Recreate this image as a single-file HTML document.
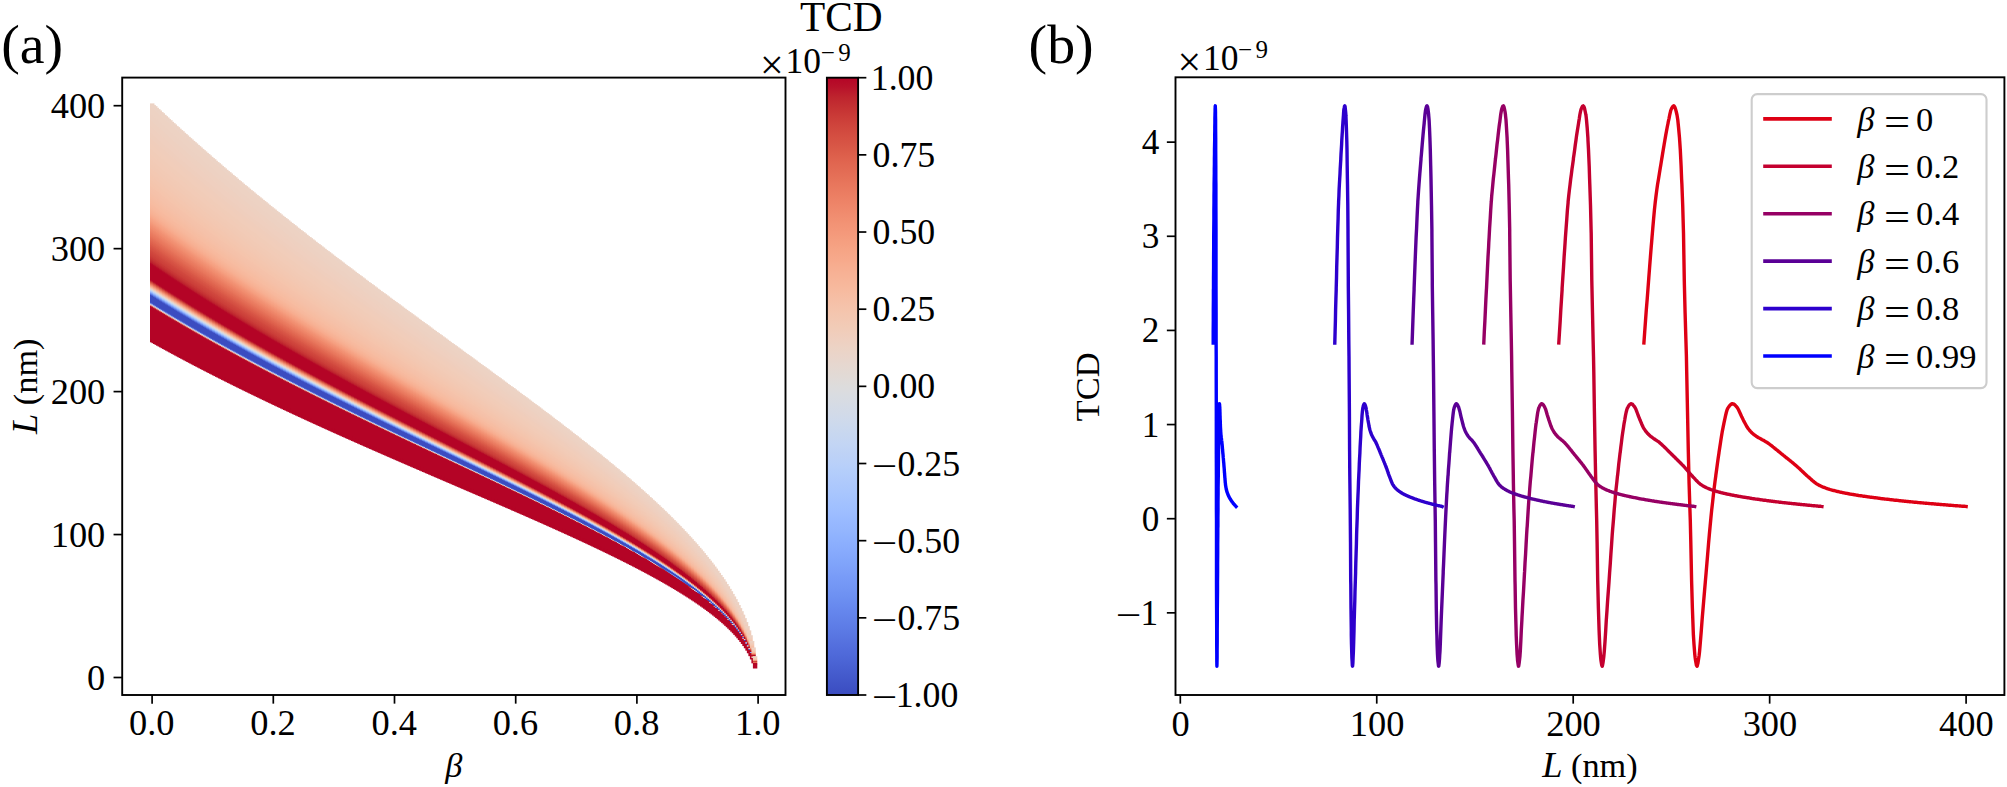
<!DOCTYPE html>
<html lang="en"><head><meta charset="utf-8"><title>TCD figure</title>
<style>html,body{margin:0;padding:0;background:#fff}body{width:2007px;height:787px;overflow:hidden}svg{display:block}text{font-family:'Liberation Serif','Times New Roman',Times,serif;fill:#000}.i{font-style:italic}</style></head><body>
<svg width="2007" height="787" viewBox="0 0 2007 787">
<rect width="2007" height="787" fill="#fff"/>
<defs>
<linearGradient id="hg" x1="0" y1="0" x2="0" y2="1"><stop offset="0.0000" stop-color="#ecd3c5"/><stop offset="0.0045" stop-color="#ecd3c5"/><stop offset="0.0091" stop-color="#ecd3c5"/><stop offset="0.0136" stop-color="#edd2c3"/><stop offset="0.0182" stop-color="#edd2c3"/><stop offset="0.0227" stop-color="#edd2c3"/><stop offset="0.0273" stop-color="#edd2c3"/><stop offset="0.0318" stop-color="#edd2c3"/><stop offset="0.0364" stop-color="#edd2c3"/><stop offset="0.0409" stop-color="#edd2c3"/><stop offset="0.0455" stop-color="#edd1c2"/><stop offset="0.0500" stop-color="#edd1c2"/><stop offset="0.0545" stop-color="#edd1c2"/><stop offset="0.0591" stop-color="#edd1c2"/><stop offset="0.0636" stop-color="#edd1c2"/><stop offset="0.0682" stop-color="#edd1c2"/><stop offset="0.0727" stop-color="#eed0c0"/><stop offset="0.0773" stop-color="#eed0c0"/><stop offset="0.0818" stop-color="#eed0c0"/><stop offset="0.0864" stop-color="#eed0c0"/><stop offset="0.0909" stop-color="#eed0c0"/><stop offset="0.0955" stop-color="#eed0c0"/><stop offset="0.1000" stop-color="#efcfbf"/><stop offset="0.1045" stop-color="#efcfbf"/><stop offset="0.1091" stop-color="#efcfbf"/><stop offset="0.1136" stop-color="#efcfbf"/><stop offset="0.1182" stop-color="#efcfbf"/><stop offset="0.1227" stop-color="#efcfbf"/><stop offset="0.1273" stop-color="#efcebd"/><stop offset="0.1318" stop-color="#efcebd"/><stop offset="0.1364" stop-color="#efcebd"/><stop offset="0.1409" stop-color="#efcebd"/><stop offset="0.1455" stop-color="#efcebd"/><stop offset="0.1500" stop-color="#f0cdbb"/><stop offset="0.1545" stop-color="#f0cdbb"/><stop offset="0.1591" stop-color="#f0cdbb"/><stop offset="0.1636" stop-color="#f0cdbb"/><stop offset="0.1682" stop-color="#f0cdbb"/><stop offset="0.1727" stop-color="#f1cdba"/><stop offset="0.1773" stop-color="#f1cdba"/><stop offset="0.1818" stop-color="#f1cdba"/><stop offset="0.1864" stop-color="#f1cdba"/><stop offset="0.1909" stop-color="#f1cdba"/><stop offset="0.1955" stop-color="#f1ccb8"/><stop offset="0.2000" stop-color="#f1ccb8"/><stop offset="0.2045" stop-color="#f1ccb8"/><stop offset="0.2091" stop-color="#f1ccb8"/><stop offset="0.2136" stop-color="#f1ccb8"/><stop offset="0.2182" stop-color="#f2cbb7"/><stop offset="0.2227" stop-color="#f2cbb7"/><stop offset="0.2273" stop-color="#f2cbb7"/><stop offset="0.2318" stop-color="#f2cbb7"/><stop offset="0.2364" stop-color="#f2cbb7"/><stop offset="0.2409" stop-color="#f2cab5"/><stop offset="0.2455" stop-color="#f2cab5"/><stop offset="0.2500" stop-color="#f2cab5"/><stop offset="0.2545" stop-color="#f2cab5"/><stop offset="0.2591" stop-color="#f2c9b4"/><stop offset="0.2636" stop-color="#f2c9b4"/><stop offset="0.2682" stop-color="#f2c9b4"/><stop offset="0.2727" stop-color="#f2c9b4"/><stop offset="0.2773" stop-color="#f3c8b2"/><stop offset="0.2818" stop-color="#f3c8b2"/><stop offset="0.2864" stop-color="#f3c8b2"/><stop offset="0.2909" stop-color="#f3c8b2"/><stop offset="0.2955" stop-color="#f3c7b1"/><stop offset="0.3000" stop-color="#f3c7b1"/><stop offset="0.3045" stop-color="#f3c7b1"/><stop offset="0.3091" stop-color="#f4c6af"/><stop offset="0.3136" stop-color="#f4c6af"/><stop offset="0.3182" stop-color="#f4c6af"/><stop offset="0.3227" stop-color="#f4c6af"/><stop offset="0.3273" stop-color="#f4c5ad"/><stop offset="0.3318" stop-color="#f4c5ad"/><stop offset="0.3364" stop-color="#f4c5ad"/><stop offset="0.3409" stop-color="#f5c4ac"/><stop offset="0.3455" stop-color="#f5c4ac"/><stop offset="0.3500" stop-color="#f5c4ac"/><stop offset="0.3545" stop-color="#f5c2aa"/><stop offset="0.3591" stop-color="#f5c2aa"/><stop offset="0.3636" stop-color="#f5c2aa"/><stop offset="0.3682" stop-color="#f5c1a9"/><stop offset="0.3727" stop-color="#f5c1a9"/><stop offset="0.3773" stop-color="#f5c1a9"/><stop offset="0.3818" stop-color="#f5c0a7"/><stop offset="0.3864" stop-color="#f5c0a7"/><stop offset="0.3909" stop-color="#f6bfa6"/><stop offset="0.3955" stop-color="#f6bfa6"/><stop offset="0.4000" stop-color="#f6bea4"/><stop offset="0.4045" stop-color="#f6bea4"/><stop offset="0.4091" stop-color="#f6bda2"/><stop offset="0.4136" stop-color="#f6bda2"/><stop offset="0.4182" stop-color="#f7bca1"/><stop offset="0.4227" stop-color="#f7bca1"/><stop offset="0.4273" stop-color="#f7ba9f"/><stop offset="0.4318" stop-color="#f7b99e"/><stop offset="0.4364" stop-color="#f7b99e"/><stop offset="0.4409" stop-color="#f7b89c"/><stop offset="0.4455" stop-color="#f7b79b"/><stop offset="0.4500" stop-color="#f7b599"/><stop offset="0.4545" stop-color="#f7b497"/><stop offset="0.4591" stop-color="#f7b396"/><stop offset="0.4636" stop-color="#f7b194"/><stop offset="0.4682" stop-color="#f7b093"/><stop offset="0.4727" stop-color="#f7ad90"/><stop offset="0.4773" stop-color="#f7ac8e"/><stop offset="0.4818" stop-color="#f7a98b"/><stop offset="0.4864" stop-color="#f7a688"/><stop offset="0.4909" stop-color="#f6a385"/><stop offset="0.4955" stop-color="#f6a283"/><stop offset="0.5000" stop-color="#f59f80"/><stop offset="0.5045" stop-color="#f59c7d"/><stop offset="0.5091" stop-color="#f4987a"/><stop offset="0.5136" stop-color="#f39577"/><stop offset="0.5182" stop-color="#f29274"/><stop offset="0.5227" stop-color="#f18f71"/><stop offset="0.5273" stop-color="#f18d6f"/><stop offset="0.5318" stop-color="#f08a6c"/><stop offset="0.5364" stop-color="#ee8669"/><stop offset="0.5409" stop-color="#ee8468"/><stop offset="0.5455" stop-color="#ec8165"/><stop offset="0.5500" stop-color="#eb7d62"/><stop offset="0.5545" stop-color="#ea7b60"/><stop offset="0.5591" stop-color="#e9785d"/><stop offset="0.5636" stop-color="#e8765c"/><stop offset="0.5682" stop-color="#e67259"/><stop offset="0.5727" stop-color="#e46e56"/><stop offset="0.5773" stop-color="#e36c55"/><stop offset="0.5818" stop-color="#e26952"/><stop offset="0.5864" stop-color="#e0654f"/><stop offset="0.5909" stop-color="#df634e"/><stop offset="0.5955" stop-color="#dd5f4b"/><stop offset="0.6000" stop-color="#dc5d4a"/><stop offset="0.6045" stop-color="#d95847"/><stop offset="0.6091" stop-color="#d85646"/><stop offset="0.6136" stop-color="#d65244"/><stop offset="0.6182" stop-color="#d55042"/><stop offset="0.6227" stop-color="#d44e41"/><stop offset="0.6273" stop-color="#d1493f"/><stop offset="0.6318" stop-color="#d0473d"/><stop offset="0.6364" stop-color="#cf453c"/><stop offset="0.6409" stop-color="#cd423b"/><stop offset="0.6455" stop-color="#cc403a"/><stop offset="0.6500" stop-color="#cb3e38"/><stop offset="0.6545" stop-color="#c83836"/><stop offset="0.6591" stop-color="#c73635"/><stop offset="0.6636" stop-color="#c43032"/><stop offset="0.6682" stop-color="#c12b30"/><stop offset="0.6727" stop-color="#be242e"/><stop offset="0.6773" stop-color="#bb1b2c"/><stop offset="0.6818" stop-color="#b50927"/><stop offset="0.6864" stop-color="#b40426"/><stop offset="0.6909" stop-color="#b40426"/><stop offset="0.6955" stop-color="#b40426"/><stop offset="0.7000" stop-color="#b40426"/><stop offset="0.7045" stop-color="#b40426"/><stop offset="0.7091" stop-color="#b40426"/><stop offset="0.7136" stop-color="#b40426"/><stop offset="0.7182" stop-color="#b40426"/><stop offset="0.7227" stop-color="#b40426"/><stop offset="0.7273" stop-color="#b40426"/><stop offset="0.7318" stop-color="#b40426"/><stop offset="0.7364" stop-color="#b40426"/><stop offset="0.7409" stop-color="#b40426"/><stop offset="0.7455" stop-color="#b40426"/><stop offset="0.7500" stop-color="#b40426"/><stop offset="0.7545" stop-color="#ba162b"/><stop offset="0.7591" stop-color="#ca3b37"/><stop offset="0.7636" stop-color="#d95847"/><stop offset="0.7682" stop-color="#e67259"/><stop offset="0.7727" stop-color="#f08b6e"/><stop offset="0.7773" stop-color="#f6a385"/><stop offset="0.7818" stop-color="#f7b89c"/><stop offset="0.7864" stop-color="#f2cbb7"/><stop offset="0.7909" stop-color="#e2dad5"/><stop offset="0.7955" stop-color="#cdd9ec"/><stop offset="0.8000" stop-color="#b1cbfc"/><stop offset="0.8045" stop-color="#92b4fe"/><stop offset="0.8091" stop-color="#7093f3"/><stop offset="0.8136" stop-color="#536edd"/><stop offset="0.8182" stop-color="#3b4cc0"/><stop offset="0.8227" stop-color="#3b4cc0"/><stop offset="0.8273" stop-color="#3b4cc0"/><stop offset="0.8318" stop-color="#3b4cc0"/><stop offset="0.8364" stop-color="#3b4cc0"/><stop offset="0.8409" stop-color="#3b4cc0"/><stop offset="0.8455" stop-color="#3b4cc0"/><stop offset="0.8500" stop-color="#485fd1"/><stop offset="0.8545" stop-color="#b6cefa"/><stop offset="0.8591" stop-color="#f7bca1"/><stop offset="0.8636" stop-color="#ba162b"/><stop offset="0.8682" stop-color="#b40426"/><stop offset="0.8727" stop-color="#b40426"/><stop offset="0.8773" stop-color="#b40426"/><stop offset="0.8818" stop-color="#b40426"/><stop offset="0.8864" stop-color="#b40426"/><stop offset="0.8909" stop-color="#b40426"/><stop offset="0.8955" stop-color="#b40426"/><stop offset="0.9000" stop-color="#b40426"/><stop offset="0.9045" stop-color="#b40426"/><stop offset="0.9091" stop-color="#b40426"/><stop offset="0.9136" stop-color="#b40426"/><stop offset="0.9182" stop-color="#b40426"/><stop offset="0.9227" stop-color="#b40426"/><stop offset="0.9273" stop-color="#b40426"/><stop offset="0.9318" stop-color="#b40426"/><stop offset="0.9364" stop-color="#b40426"/><stop offset="0.9409" stop-color="#b40426"/><stop offset="0.9455" stop-color="#b40426"/><stop offset="0.9500" stop-color="#b40426"/><stop offset="0.9545" stop-color="#b40426"/><stop offset="0.9591" stop-color="#b40426"/><stop offset="0.9636" stop-color="#b40426"/><stop offset="0.9682" stop-color="#b40426"/><stop offset="0.9727" stop-color="#b40426"/><stop offset="0.9773" stop-color="#b40426"/><stop offset="0.9818" stop-color="#b40426"/><stop offset="0.9864" stop-color="#b40426"/><stop offset="0.9909" stop-color="#b40426"/><stop offset="0.9955" stop-color="#b40426"/><stop offset="1.0000" stop-color="#b40426"/></linearGradient>
<linearGradient id="cb" x1="0" y1="0" x2="0" y2="1"><stop offset="0.0000" stop-color="#b40426"/><stop offset="0.0156" stop-color="#b8122a"/><stop offset="0.0312" stop-color="#be242e"/><stop offset="0.0469" stop-color="#c43032"/><stop offset="0.0625" stop-color="#ca3b37"/><stop offset="0.0781" stop-color="#cf453c"/><stop offset="0.0938" stop-color="#d44e41"/><stop offset="0.1094" stop-color="#d85646"/><stop offset="0.1250" stop-color="#dd5f4b"/><stop offset="0.1406" stop-color="#e16751"/><stop offset="0.1562" stop-color="#e46e56"/><stop offset="0.1719" stop-color="#e8765c"/><stop offset="0.1875" stop-color="#eb7d62"/><stop offset="0.2031" stop-color="#ee8468"/><stop offset="0.2188" stop-color="#f08b6e"/><stop offset="0.2344" stop-color="#f29274"/><stop offset="0.2500" stop-color="#f4987a"/><stop offset="0.2656" stop-color="#f59f80"/><stop offset="0.2812" stop-color="#f6a586"/><stop offset="0.2969" stop-color="#f7aa8c"/><stop offset="0.3125" stop-color="#f7b093"/><stop offset="0.3281" stop-color="#f7b599"/><stop offset="0.3438" stop-color="#f7ba9f"/><stop offset="0.3594" stop-color="#f6bfa6"/><stop offset="0.3750" stop-color="#f5c4ac"/><stop offset="0.3906" stop-color="#f3c8b2"/><stop offset="0.4062" stop-color="#f1ccb8"/><stop offset="0.4219" stop-color="#efcfbf"/><stop offset="0.4375" stop-color="#ecd3c5"/><stop offset="0.4531" stop-color="#e9d5cb"/><stop offset="0.4688" stop-color="#e5d8d1"/><stop offset="0.4844" stop-color="#e1dad6"/><stop offset="0.5000" stop-color="#dddcdc"/><stop offset="0.5156" stop-color="#d9dce1"/><stop offset="0.5312" stop-color="#d5dbe5"/><stop offset="0.5469" stop-color="#d1dae9"/><stop offset="0.5625" stop-color="#ccd9ed"/><stop offset="0.5781" stop-color="#c7d7f0"/><stop offset="0.5938" stop-color="#c3d5f4"/><stop offset="0.6094" stop-color="#bed2f6"/><stop offset="0.6250" stop-color="#b9d0f9"/><stop offset="0.6406" stop-color="#b3cdfb"/><stop offset="0.6562" stop-color="#aec9fc"/><stop offset="0.6719" stop-color="#a9c6fd"/><stop offset="0.6875" stop-color="#a3c2fe"/><stop offset="0.7031" stop-color="#9ebeff"/><stop offset="0.7188" stop-color="#98b9ff"/><stop offset="0.7344" stop-color="#93b5fe"/><stop offset="0.7500" stop-color="#8db0fe"/><stop offset="0.7656" stop-color="#88abfd"/><stop offset="0.7812" stop-color="#82a6fb"/><stop offset="0.7969" stop-color="#7da0f9"/><stop offset="0.8125" stop-color="#779af7"/><stop offset="0.8281" stop-color="#7295f4"/><stop offset="0.8438" stop-color="#6c8ff1"/><stop offset="0.8594" stop-color="#6788ee"/><stop offset="0.8750" stop-color="#6282ea"/><stop offset="0.8906" stop-color="#5d7ce6"/><stop offset="0.9062" stop-color="#5875e1"/><stop offset="0.9219" stop-color="#536edd"/><stop offset="0.9375" stop-color="#4e68d8"/><stop offset="0.9531" stop-color="#4961d2"/><stop offset="0.9688" stop-color="#445acc"/><stop offset="0.9844" stop-color="#3f53c6"/><stop offset="1.0000" stop-color="#3b4cc0"/></linearGradient>
</defs>
<g fill="url(#hg)"><path fill="#b40426" d="M150.00 337.64h4.4v4.70h-4.4z"/><path fill="#ecd3c5" d="M150.00 103.50h4.4v0.70h-4.4z"/><path d="M150.00 103.70h4.4v234.44h-4.4z"/><path fill="#b40426" d="M151.51 338.48h4.4v4.70h-4.4z"/><path fill="#ecd3c5" d="M151.51 104.93h4.4v0.70h-4.4z"/><path d="M151.51 105.13h4.4v233.85h-4.4z"/><path fill="#b40426" d="M153.02 339.32h4.4v4.70h-4.4z"/><path fill="#ecd3c5" d="M153.02 106.35h4.4v0.70h-4.4z"/><path d="M153.02 106.55h4.4v233.27h-4.4z"/><path fill="#b40426" d="M154.53 340.16h4.4v4.70h-4.4z"/><path fill="#ecd3c5" d="M154.53 107.77h4.4v0.70h-4.4z"/><path d="M154.53 107.97h4.4v232.69h-4.4z"/><path fill="#b40426" d="M156.04 341.00h4.4v4.70h-4.4z"/><path fill="#ecd3c5" d="M156.04 109.19h4.4v0.70h-4.4z"/><path d="M156.04 109.39h4.4v232.10h-4.4z"/><path fill="#b40426" d="M157.56 341.83h4.4v4.70h-4.4z"/><path fill="#ecd3c5" d="M157.56 110.61h4.4v0.70h-4.4z"/><path d="M157.56 110.81h4.4v231.52h-4.4z"/><path fill="#b40426" d="M159.07 342.66h4.4v4.70h-4.4z"/><path fill="#ecd3c5" d="M159.07 112.02h4.4v0.70h-4.4z"/><path d="M159.07 112.22h4.4v230.95h-4.4z"/><path fill="#b40426" d="M160.58 343.49h4.4v4.70h-4.4z"/><path fill="#ecd3c5" d="M160.58 113.42h4.4v0.70h-4.4z"/><path d="M160.58 113.62h4.4v230.37h-4.4z"/><path fill="#b40426" d="M162.09 344.32h4.4v4.70h-4.4z"/><path fill="#ecd3c5" d="M162.09 114.83h4.4v0.70h-4.4z"/><path d="M162.09 115.03h4.4v229.79h-4.4z"/><path fill="#b40426" d="M163.60 345.15h4.4v4.70h-4.4z"/><path fill="#ecd3c5" d="M163.60 116.23h4.4v0.70h-4.4z"/><path d="M163.60 116.43h4.4v229.22h-4.4z"/><path fill="#b40426" d="M165.11 345.97h4.4v4.70h-4.4z"/><path fill="#ecd3c5" d="M165.11 117.62h4.4v0.70h-4.4z"/><path d="M165.11 117.82h4.4v228.65h-4.4z"/><path fill="#b40426" d="M166.62 346.79h4.4v4.70h-4.4z"/><path fill="#ecd3c5" d="M166.62 119.02h4.4v0.70h-4.4z"/><path d="M166.62 119.22h4.4v228.08h-4.4z"/><path fill="#b40426" d="M168.13 347.61h4.4v4.70h-4.4z"/><path fill="#ecd3c5" d="M168.13 120.41h4.4v0.70h-4.4z"/><path d="M168.13 120.61h4.4v227.51h-4.4z"/><path fill="#b40426" d="M169.64 348.43h4.4v4.70h-4.4z"/><path fill="#ecd3c5" d="M169.64 121.80h4.4v0.70h-4.4z"/><path d="M169.64 122.00h4.4v226.94h-4.4z"/><path fill="#b40426" d="M171.15 349.25h4.4v4.70h-4.4z"/><path fill="#ecd3c5" d="M171.15 123.18h4.4v0.70h-4.4z"/><path d="M171.15 123.38h4.4v226.37h-4.4z"/><path fill="#b40426" d="M172.67 350.06h4.4v4.70h-4.4z"/><path fill="#ecd3c5" d="M172.67 124.56h4.4v0.70h-4.4z"/><path d="M172.67 124.76h4.4v225.80h-4.4z"/><path fill="#b40426" d="M174.18 350.88h4.4v4.70h-4.4z"/><path fill="#ecd3c5" d="M174.18 125.94h4.4v0.70h-4.4z"/><path d="M174.18 126.14h4.4v225.24h-4.4z"/><path fill="#b40426" d="M175.69 351.69h4.4v4.70h-4.4z"/><path fill="#ecd3c5" d="M175.69 127.31h4.4v0.70h-4.4z"/><path d="M175.69 127.51h4.4v224.67h-4.4z"/><path fill="#b40426" d="M177.20 352.50h4.4v4.70h-4.4z"/><path fill="#ecd3c5" d="M177.20 128.68h4.4v0.70h-4.4z"/><path d="M177.20 128.88h4.4v224.11h-4.4z"/><path fill="#b40426" d="M178.71 353.30h4.4v4.70h-4.4z"/><path fill="#ecd3c5" d="M178.71 130.05h4.4v0.70h-4.4z"/><path d="M178.71 130.25h4.4v223.55h-4.4z"/><path fill="#b40426" d="M180.22 354.11h4.4v4.70h-4.4z"/><path fill="#ecd3c5" d="M180.22 131.42h4.4v0.70h-4.4z"/><path d="M180.22 131.62h4.4v222.99h-4.4z"/><path fill="#b40426" d="M181.73 354.91h4.4v4.70h-4.4z"/><path fill="#ecd3c5" d="M181.73 132.78h4.4v0.70h-4.4z"/><path d="M181.73 132.98h4.4v222.43h-4.4z"/><path fill="#b40426" d="M183.24 355.71h4.4v4.70h-4.4z"/><path fill="#ecd3c5" d="M183.24 134.14h4.4v0.70h-4.4z"/><path d="M183.24 134.34h4.4v221.88h-4.4z"/><path fill="#b40426" d="M184.75 356.51h4.4v4.70h-4.4z"/><path fill="#ecd3c5" d="M184.75 135.49h4.4v0.70h-4.4z"/><path d="M184.75 135.69h4.4v221.32h-4.4z"/><path fill="#b40426" d="M186.26 357.31h4.4v4.70h-4.4z"/><path fill="#ecd3c5" d="M186.26 136.85h4.4v0.70h-4.4z"/><path d="M186.26 137.05h4.4v220.77h-4.4z"/><path fill="#b40426" d="M187.78 358.11h4.4v4.70h-4.4z"/><path fill="#ecd3c5" d="M187.78 138.20h4.4v0.70h-4.4z"/><path d="M187.78 138.40h4.4v220.21h-4.4z"/><path fill="#b40426" d="M189.29 358.90h4.4v4.70h-4.4z"/><path fill="#ecd3c5" d="M189.29 139.54h4.4v0.70h-4.4z"/><path d="M189.29 139.74h4.4v219.66h-4.4z"/><path fill="#b40426" d="M190.80 359.70h4.4v4.70h-4.4z"/><path fill="#ecd3c5" d="M190.80 140.89h4.4v0.70h-4.4z"/><path d="M190.80 141.09h4.4v219.11h-4.4z"/><path fill="#b40426" d="M192.31 360.49h4.4v4.70h-4.4z"/><path fill="#ecd3c5" d="M192.31 142.23h4.4v0.70h-4.4z"/><path d="M192.31 142.43h4.4v218.56h-4.4z"/><path fill="#b40426" d="M193.82 361.28h4.4v4.70h-4.4z"/><path fill="#ecd3c5" d="M193.82 143.57h4.4v0.70h-4.4z"/><path d="M193.82 143.77h4.4v218.01h-4.4z"/><path fill="#b40426" d="M195.33 362.07h4.4v4.70h-4.4z"/><path fill="#ecd3c5" d="M195.33 144.90h4.4v0.70h-4.4z"/><path d="M195.33 145.10h4.4v217.46h-4.4z"/><path fill="#b40426" d="M196.84 362.85h4.4v4.70h-4.4z"/><path fill="#ecd3c5" d="M196.84 146.24h4.4v0.70h-4.4z"/><path d="M196.84 146.44h4.4v216.92h-4.4z"/><path fill="#b40426" d="M198.35 363.64h4.4v4.70h-4.4z"/><path fill="#ecd3c5" d="M198.35 147.57h4.4v0.70h-4.4z"/><path d="M198.35 147.77h4.4v216.37h-4.4z"/><path fill="#b40426" d="M199.86 364.42h4.4v4.70h-4.4z"/><path fill="#ecd3c5" d="M199.86 148.89h4.4v0.70h-4.4z"/><path d="M199.86 149.09h4.4v215.83h-4.4z"/><path fill="#b40426" d="M201.37 365.20h4.4v4.70h-4.4z"/><path fill="#ecd3c5" d="M201.37 150.22h4.4v0.70h-4.4z"/><path d="M201.37 150.42h4.4v215.28h-4.4z"/><path fill="#b40426" d="M202.89 365.98h4.4v4.70h-4.4z"/><path fill="#ecd3c5" d="M202.89 151.54h4.4v0.70h-4.4z"/><path d="M202.89 151.74h4.4v214.74h-4.4z"/><path fill="#b40426" d="M204.40 366.76h4.4v4.70h-4.4z"/><path fill="#ecd3c5" d="M204.40 152.86h4.4v0.70h-4.4z"/><path d="M204.40 153.06h4.4v214.20h-4.4z"/><path fill="#b40426" d="M205.91 367.53h4.4v4.70h-4.4z"/><path fill="#ecd3c5" d="M205.91 154.17h4.4v0.70h-4.4z"/><path d="M205.91 154.37h4.4v213.66h-4.4z"/><path fill="#b40426" d="M207.42 368.31h4.4v4.70h-4.4z"/><path fill="#ecd3c5" d="M207.42 155.48h4.4v0.70h-4.4z"/><path d="M207.42 155.68h4.4v213.12h-4.4z"/><path fill="#b40426" d="M208.93 369.08h4.4v4.70h-4.4z"/><path fill="#ecd3c5" d="M208.93 156.80h4.4v0.70h-4.4z"/><path d="M208.93 157.00h4.4v212.59h-4.4z"/><path fill="#b40426" d="M210.44 369.85h4.4v4.70h-4.4z"/><path fill="#ecd3c5" d="M210.44 158.10h4.4v0.70h-4.4z"/><path d="M210.44 158.30h4.4v212.05h-4.4z"/><path fill="#b40426" d="M211.95 370.62h4.4v4.70h-4.4z"/><path fill="#ecd3c5" d="M211.95 159.41h4.4v0.70h-4.4z"/><path d="M211.95 159.61h4.4v211.52h-4.4z"/><path fill="#b40426" d="M213.46 371.39h4.4v4.70h-4.4z"/><path fill="#ecd3c5" d="M213.46 160.71h4.4v0.70h-4.4z"/><path d="M213.46 160.91h4.4v210.98h-4.4z"/><path fill="#b40426" d="M214.97 372.16h4.4v4.70h-4.4z"/><path fill="#ecd3c5" d="M214.97 162.01h4.4v0.70h-4.4z"/><path d="M214.97 162.21h4.4v210.45h-4.4z"/><path fill="#b40426" d="M216.49 372.92h4.4v4.70h-4.4z"/><path fill="#ecd3c5" d="M216.49 163.31h4.4v0.70h-4.4z"/><path d="M216.49 163.51h4.4v209.92h-4.4z"/><path fill="#b40426" d="M218.00 373.69h4.4v4.70h-4.4z"/><path fill="#ecd3c5" d="M218.00 164.60h4.4v0.70h-4.4z"/><path d="M218.00 164.80h4.4v209.39h-4.4z"/><path fill="#b40426" d="M219.51 374.45h4.4v4.70h-4.4z"/><path fill="#ecd3c5" d="M219.51 165.90h4.4v0.70h-4.4z"/><path d="M219.51 166.10h4.4v208.86h-4.4z"/><path fill="#b40426" d="M221.02 375.21h4.4v4.70h-4.4z"/><path fill="#ecd3c5" d="M221.02 167.18h4.4v0.70h-4.4z"/><path d="M221.02 167.38h4.4v208.33h-4.4z"/><path fill="#b40426" d="M222.53 375.97h4.4v4.70h-4.4z"/><path fill="#ecd3c5" d="M222.53 168.47h4.4v0.70h-4.4z"/><path d="M222.53 168.67h4.4v207.80h-4.4z"/><path fill="#b40426" d="M224.04 376.73h4.4v4.70h-4.4z"/><path fill="#ecd3c5" d="M224.04 169.76h4.4v0.70h-4.4z"/><path d="M224.04 169.96h4.4v207.27h-4.4z"/><path fill="#b40426" d="M225.55 377.49h4.4v4.70h-4.4z"/><path fill="#ecd3c5" d="M225.55 171.04h4.4v0.70h-4.4z"/><path d="M225.55 171.24h4.4v206.75h-4.4z"/><path fill="#b40426" d="M227.06 378.24h4.4v4.70h-4.4z"/><path fill="#ecd3c5" d="M227.06 172.32h4.4v0.70h-4.4z"/><path d="M227.06 172.52h4.4v206.22h-4.4z"/><path fill="#b40426" d="M228.57 378.99h4.4v4.70h-4.4z"/><path fill="#ecd3c5" d="M228.57 173.60h4.4v0.70h-4.4z"/><path d="M228.57 173.80h4.4v205.70h-4.4z"/><path fill="#b40426" d="M230.08 379.75h4.4v4.70h-4.4z"/><path fill="#ecd3c5" d="M230.08 174.87h4.4v0.70h-4.4z"/><path d="M230.08 175.07h4.4v205.18h-4.4z"/><path fill="#b40426" d="M231.60 380.50h4.4v4.70h-4.4z"/><path fill="#ecd3c5" d="M231.60 176.14h4.4v0.70h-4.4z"/><path d="M231.60 176.34h4.4v204.65h-4.4z"/><path fill="#b40426" d="M233.11 381.25h4.4v4.70h-4.4z"/><path fill="#ecd3c5" d="M233.11 177.41h4.4v0.70h-4.4z"/><path d="M233.11 177.61h4.4v204.13h-4.4z"/><path fill="#b40426" d="M234.62 382.00h4.4v4.70h-4.4z"/><path fill="#ecd3c5" d="M234.62 178.68h4.4v0.70h-4.4z"/><path d="M234.62 178.88h4.4v203.61h-4.4z"/><path fill="#b40426" d="M236.13 382.74h4.4v4.70h-4.4z"/><path fill="#ecd3c5" d="M236.13 179.95h4.4v0.70h-4.4z"/><path d="M236.13 180.15h4.4v203.09h-4.4z"/><path fill="#b40426" d="M237.64 383.49h4.4v4.70h-4.4z"/><path fill="#ecd3c5" d="M237.64 181.21h4.4v0.70h-4.4z"/><path d="M237.64 181.41h4.4v202.58h-4.4z"/><path fill="#b40426" d="M239.15 384.23h4.4v4.70h-4.4z"/><path fill="#ecd3c5" d="M239.15 182.47h4.4v0.70h-4.4z"/><path d="M239.15 182.67h4.4v202.06h-4.4z"/><path fill="#b40426" d="M240.66 384.97h4.4v4.70h-4.4z"/><path fill="#ecd3c5" d="M240.66 183.73h4.4v0.70h-4.4z"/><path d="M240.66 183.93h4.4v201.54h-4.4z"/><path fill="#b40426" d="M242.17 385.72h4.4v4.70h-4.4z"/><path fill="#ecd3c5" d="M242.17 184.99h4.4v0.70h-4.4z"/><path d="M242.17 185.19h4.4v201.03h-4.4z"/><path fill="#b40426" d="M243.68 386.46h4.4v4.70h-4.4z"/><path fill="#ecd3c5" d="M243.68 186.24h4.4v0.70h-4.4z"/><path d="M243.68 186.44h4.4v200.51h-4.4z"/><path fill="#b40426" d="M245.19 387.19h4.4v4.70h-4.4z"/><path fill="#ecd3c5" d="M245.19 187.49h4.4v0.70h-4.4z"/><path d="M245.19 187.69h4.4v200.00h-4.4z"/><path fill="#b40426" d="M246.71 387.93h4.4v4.70h-4.4z"/><path fill="#ecd3c5" d="M246.71 188.74h4.4v0.70h-4.4z"/><path d="M246.71 188.94h4.4v199.49h-4.4z"/><path fill="#b40426" d="M248.22 388.67h4.4v4.70h-4.4z"/><path fill="#ecd3c5" d="M248.22 189.99h4.4v0.70h-4.4z"/><path d="M248.22 190.19h4.4v198.98h-4.4z"/><path fill="#b40426" d="M249.73 389.40h4.4v4.70h-4.4z"/><path fill="#ecd3c5" d="M249.73 191.24h4.4v0.70h-4.4z"/><path d="M249.73 191.44h4.4v198.47h-4.4z"/><path fill="#b40426" d="M251.24 390.14h4.4v4.70h-4.4z"/><path fill="#ecd3c5" d="M251.24 192.48h4.4v0.70h-4.4z"/><path d="M251.24 192.68h4.4v197.96h-4.4z"/><path fill="#b40426" d="M252.75 390.87h4.4v4.70h-4.4z"/><path fill="#ecd3c5" d="M252.75 193.72h4.4v0.70h-4.4z"/><path d="M252.75 193.92h4.4v197.45h-4.4z"/><path fill="#b40426" d="M254.26 391.60h4.4v4.70h-4.4z"/><path fill="#ecd3c5" d="M254.26 194.96h4.4v0.70h-4.4z"/><path d="M254.26 195.16h4.4v196.94h-4.4z"/><path fill="#b40426" d="M255.77 392.33h4.4v4.70h-4.4z"/><path fill="#ecd3c5" d="M255.77 196.20h4.4v0.70h-4.4z"/><path d="M255.77 196.40h4.4v196.43h-4.4z"/><path fill="#b40426" d="M257.28 393.06h4.4v4.70h-4.4z"/><path fill="#ecd3c5" d="M257.28 197.43h4.4v0.70h-4.4z"/><path d="M257.28 197.63h4.4v195.93h-4.4z"/><path fill="#b40426" d="M258.79 393.79h4.4v4.70h-4.4z"/><path fill="#ecd3c5" d="M258.79 198.67h4.4v0.70h-4.4z"/><path d="M258.79 198.87h4.4v195.42h-4.4z"/><path fill="#b40426" d="M260.31 394.51h4.4v4.70h-4.4z"/><path fill="#ecd3c5" d="M260.31 199.90h4.4v0.70h-4.4z"/><path d="M260.31 200.10h4.4v194.92h-4.4z"/><path fill="#b40426" d="M261.82 395.24h4.4v4.70h-4.4z"/><path fill="#ecd3c5" d="M261.82 201.12h4.4v0.70h-4.4z"/><path d="M261.82 201.32h4.4v194.41h-4.4z"/><path fill="#b40426" d="M263.33 395.96h4.4v4.70h-4.4z"/><path fill="#ecd3c5" d="M263.33 202.35h4.4v0.70h-4.4z"/><path d="M263.33 202.55h4.4v193.91h-4.4z"/><path fill="#b40426" d="M264.84 396.68h4.4v4.70h-4.4z"/><path fill="#ecd3c5" d="M264.84 203.58h4.4v0.70h-4.4z"/><path d="M264.84 203.78h4.4v193.41h-4.4z"/><path fill="#b40426" d="M266.35 397.40h4.4v4.70h-4.4z"/><path fill="#ecd3c5" d="M266.35 204.80h4.4v0.70h-4.4z"/><path d="M266.35 205.00h4.4v192.91h-4.4z"/><path fill="#b40426" d="M267.86 398.13h4.4v4.70h-4.4z"/><path fill="#ecd3c5" d="M267.86 206.02h4.4v0.70h-4.4z"/><path d="M267.86 206.22h4.4v192.40h-4.4z"/><path fill="#b40426" d="M269.37 398.84h4.4v4.70h-4.4z"/><path fill="#ecd3c5" d="M269.37 207.24h4.4v0.70h-4.4z"/><path d="M269.37 207.44h4.4v191.90h-4.4z"/><path fill="#b40426" d="M270.88 399.56h4.4v4.70h-4.4z"/><path fill="#ecd3c5" d="M270.88 208.46h4.4v0.70h-4.4z"/><path d="M270.88 208.66h4.4v191.41h-4.4z"/><path fill="#b40426" d="M272.39 400.28h4.4v4.70h-4.4z"/><path fill="#ecd3c5" d="M272.39 209.67h4.4v0.70h-4.4z"/><path d="M272.39 209.87h4.4v190.91h-4.4z"/><path fill="#b40426" d="M273.90 401.00h4.4v4.70h-4.4z"/><path fill="#ecd3c5" d="M273.90 210.88h4.4v0.70h-4.4z"/><path d="M273.90 211.08h4.4v190.41h-4.4z"/><path fill="#b40426" d="M275.42 401.71h4.4v4.70h-4.4z"/><path fill="#ecd3c5" d="M275.42 212.10h4.4v0.70h-4.4z"/><path d="M275.42 212.30h4.4v189.91h-4.4z"/><path fill="#b40426" d="M276.93 402.42h4.4v4.70h-4.4z"/><path fill="#ecd3c5" d="M276.93 213.31h4.4v0.70h-4.4z"/><path d="M276.93 213.51h4.4v189.42h-4.4z"/><path fill="#b40426" d="M278.44 403.14h4.4v4.70h-4.4z"/><path fill="#ecd3c5" d="M278.44 214.51h4.4v0.70h-4.4z"/><path d="M278.44 214.71h4.4v188.92h-4.4z"/><path fill="#b40426" d="M279.95 403.85h4.4v4.70h-4.4z"/><path fill="#ecd3c5" d="M279.95 215.72h4.4v0.70h-4.4z"/><path d="M279.95 215.92h4.4v188.43h-4.4z"/><path fill="#b40426" d="M281.46 404.56h4.4v4.70h-4.4z"/><path fill="#ecd3c5" d="M281.46 216.92h4.4v0.70h-4.4z"/><path d="M281.46 217.12h4.4v187.93h-4.4z"/><path fill="#b40426" d="M282.97 405.27h4.4v4.70h-4.4z"/><path fill="#ecd3c5" d="M282.97 218.13h4.4v0.70h-4.4z"/><path d="M282.97 218.33h4.4v187.44h-4.4z"/><path fill="#b40426" d="M284.48 405.98h4.4v4.70h-4.4z"/><path fill="#ecd3c5" d="M284.48 219.33h4.4v0.70h-4.4z"/><path d="M284.48 219.53h4.4v186.95h-4.4z"/><path fill="#b40426" d="M285.99 406.68h4.4v4.70h-4.4z"/><path fill="#ecd3c5" d="M285.99 220.53h4.4v0.70h-4.4z"/><path d="M285.99 220.73h4.4v186.46h-4.4z"/><path fill="#b40426" d="M287.50 407.39h4.4v4.70h-4.4z"/><path fill="#ecd3c5" d="M287.50 221.72h4.4v0.70h-4.4z"/><path d="M287.50 221.92h4.4v185.97h-4.4z"/><path fill="#b40426" d="M289.01 408.09h4.4v4.70h-4.4z"/><path fill="#ecd3c5" d="M289.01 222.92h4.4v0.70h-4.4z"/><path d="M289.01 223.12h4.4v185.48h-4.4z"/><path fill="#b40426" d="M290.53 408.80h4.4v4.70h-4.4z"/><path fill="#ecd3c5" d="M290.53 224.11h4.4v0.70h-4.4z"/><path d="M290.53 224.31h4.4v184.99h-4.4z"/><path fill="#b40426" d="M292.04 409.50h4.4v4.70h-4.4z"/><path fill="#ecd3c5" d="M292.04 225.30h4.4v0.70h-4.4z"/><path d="M292.04 225.50h4.4v184.50h-4.4z"/><path fill="#b40426" d="M293.55 410.20h4.4v4.70h-4.4z"/><path fill="#ecd3c5" d="M293.55 226.49h4.4v0.70h-4.4z"/><path d="M293.55 226.69h4.4v184.01h-4.4z"/><path fill="#b40426" d="M295.06 410.91h4.4v4.70h-4.4z"/><path fill="#ecd3c5" d="M295.06 227.68h4.4v0.70h-4.4z"/><path d="M295.06 227.88h4.4v183.52h-4.4z"/><path fill="#b40426" d="M296.57 411.61h4.4v4.70h-4.4z"/><path fill="#ecd3c5" d="M296.57 228.87h4.4v0.70h-4.4z"/><path d="M296.57 229.07h4.4v183.04h-4.4z"/><path fill="#b40426" d="M298.08 412.31h4.4v4.70h-4.4z"/><path fill="#ecd3c5" d="M298.08 230.06h4.4v0.70h-4.4z"/><path d="M298.08 230.26h4.4v182.55h-4.4z"/><path fill="#b40426" d="M299.59 413.00h4.4v4.70h-4.4z"/><path fill="#ecd3c5" d="M299.59 231.24h4.4v0.70h-4.4z"/><path d="M299.59 231.44h4.4v182.07h-4.4z"/><path fill="#b40426" d="M301.10 413.70h4.4v4.70h-4.4z"/><path fill="#ecd3c5" d="M301.10 232.42h4.4v0.70h-4.4z"/><path d="M301.10 232.62h4.4v181.58h-4.4z"/><path fill="#b40426" d="M302.61 414.40h4.4v4.70h-4.4z"/><path fill="#ecd3c5" d="M302.61 233.60h4.4v0.70h-4.4z"/><path d="M302.61 233.80h4.4v181.10h-4.4z"/><path fill="#b40426" d="M304.12 415.09h4.4v4.70h-4.4z"/><path fill="#ecd3c5" d="M304.12 234.78h4.4v0.70h-4.4z"/><path d="M304.12 234.98h4.4v180.61h-4.4z"/><path fill="#b40426" d="M305.64 415.79h4.4v4.70h-4.4z"/><path fill="#ecd3c5" d="M305.64 235.96h4.4v0.70h-4.4z"/><path d="M305.64 236.16h4.4v180.13h-4.4z"/><path fill="#b40426" d="M307.15 416.48h4.4v4.70h-4.4z"/><path fill="#ecd3c5" d="M307.15 237.13h4.4v0.70h-4.4z"/><path d="M307.15 237.33h4.4v179.65h-4.4z"/><path fill="#b40426" d="M308.66 417.18h4.4v4.70h-4.4z"/><path fill="#ecd3c5" d="M308.66 238.31h4.4v0.70h-4.4z"/><path d="M308.66 238.51h4.4v179.17h-4.4z"/><path fill="#b40426" d="M310.17 417.87h4.4v4.70h-4.4z"/><path fill="#ecd3c5" d="M310.17 239.48h4.4v0.70h-4.4z"/><path d="M310.17 239.68h4.4v178.69h-4.4z"/><path fill="#b40426" d="M311.68 418.56h4.4v4.70h-4.4z"/><path fill="#ecd3c5" d="M311.68 240.65h4.4v0.70h-4.4z"/><path d="M311.68 240.85h4.4v178.21h-4.4z"/><path fill="#b40426" d="M313.19 419.25h4.4v4.70h-4.4z"/><path fill="#ecd3c5" d="M313.19 241.82h4.4v0.70h-4.4z"/><path d="M313.19 242.02h4.4v177.73h-4.4z"/><path fill="#b40426" d="M314.70 419.94h4.4v4.70h-4.4z"/><path fill="#ecd3c5" d="M314.70 242.99h4.4v0.70h-4.4z"/><path d="M314.70 243.19h4.4v177.25h-4.4z"/><path fill="#b40426" d="M316.21 420.63h4.4v4.70h-4.4z"/><path fill="#ecd3c5" d="M316.21 244.16h4.4v0.70h-4.4z"/><path d="M316.21 244.36h4.4v176.77h-4.4z"/><path fill="#b40426" d="M317.72 421.31h4.4v4.70h-4.4z"/><path fill="#ecd3c5" d="M317.72 245.32h4.4v0.70h-4.4z"/><path d="M317.72 245.52h4.4v176.29h-4.4z"/><path fill="#b40426" d="M319.24 422.00h4.4v4.70h-4.4z"/><path fill="#ecd3c5" d="M319.24 246.49h4.4v0.70h-4.4z"/><path d="M319.24 246.69h4.4v175.81h-4.4z"/><path fill="#b40426" d="M320.75 422.69h4.4v4.70h-4.4z"/><path fill="#ecd3c5" d="M320.75 247.65h4.4v0.70h-4.4z"/><path d="M320.75 247.85h4.4v175.34h-4.4z"/><path fill="#b40426" d="M322.26 423.37h4.4v4.70h-4.4z"/><path fill="#ecd3c5" d="M322.26 248.81h4.4v0.70h-4.4z"/><path d="M322.26 249.01h4.4v174.86h-4.4z"/><path fill="#b40426" d="M323.77 424.06h4.4v4.70h-4.4z"/><path fill="#ecd3c5" d="M323.77 249.97h4.4v0.70h-4.4z"/><path d="M323.77 250.17h4.4v174.38h-4.4z"/><path fill="#b40426" d="M325.28 424.74h4.4v4.70h-4.4z"/><path fill="#ecd3c5" d="M325.28 251.13h4.4v0.70h-4.4z"/><path d="M325.28 251.33h4.4v173.91h-4.4z"/><path fill="#b40426" d="M326.79 425.42h4.4v4.70h-4.4z"/><path fill="#ecd3c5" d="M326.79 252.29h4.4v0.70h-4.4z"/><path d="M326.79 252.49h4.4v173.43h-4.4z"/><path fill="#b40426" d="M328.30 426.11h4.4v4.70h-4.4z"/><path fill="#ecd3c5" d="M328.30 253.45h4.4v0.70h-4.4z"/><path d="M328.30 253.65h4.4v172.96h-4.4z"/><path fill="#b40426" d="M329.81 426.79h4.4v4.70h-4.4z"/><path fill="#ecd3c5" d="M329.81 254.60h4.4v0.70h-4.4z"/><path d="M329.81 254.80h4.4v172.49h-4.4z"/><path fill="#b40426" d="M331.32 427.47h4.4v4.70h-4.4z"/><path fill="#ecd3c5" d="M331.32 255.76h4.4v0.70h-4.4z"/><path d="M331.32 255.96h4.4v172.01h-4.4z"/><path fill="#b40426" d="M332.83 428.15h4.4v4.70h-4.4z"/><path fill="#ecd3c5" d="M332.83 256.91h4.4v0.70h-4.4z"/><path d="M332.83 257.11h4.4v171.54h-4.4z"/><path fill="#b40426" d="M334.35 428.83h4.4v4.70h-4.4z"/><path fill="#ecd3c5" d="M334.35 258.06h4.4v0.70h-4.4z"/><path d="M334.35 258.26h4.4v171.07h-4.4z"/><path fill="#b40426" d="M335.86 429.51h4.4v4.70h-4.4z"/><path fill="#ecd3c5" d="M335.86 259.21h4.4v0.70h-4.4z"/><path d="M335.86 259.41h4.4v170.60h-4.4z"/><path fill="#b40426" d="M337.37 430.18h4.4v4.70h-4.4z"/><path fill="#ecd3c5" d="M337.37 260.36h4.4v0.70h-4.4z"/><path d="M337.37 260.56h4.4v170.13h-4.4z"/><path fill="#b40426" d="M338.88 430.86h4.4v4.70h-4.4z"/><path fill="#ecd3c5" d="M338.88 261.50h4.4v0.70h-4.4z"/><path d="M338.88 261.70h4.4v169.66h-4.4z"/><path fill="#b40426" d="M340.39 431.54h4.4v4.70h-4.4z"/><path fill="#ecd3c5" d="M340.39 262.65h4.4v0.70h-4.4z"/><path d="M340.39 262.85h4.4v169.19h-4.4z"/><path fill="#b40426" d="M341.90 432.21h4.4v4.70h-4.4z"/><path fill="#ecd3c5" d="M341.90 263.80h4.4v0.70h-4.4z"/><path d="M341.90 264.00h4.4v168.72h-4.4z"/><path fill="#b40426" d="M343.41 432.89h4.4v4.70h-4.4z"/><path fill="#ecd3c5" d="M343.41 264.94h4.4v0.70h-4.4z"/><path d="M343.41 265.14h4.4v168.25h-4.4z"/><path fill="#b40426" d="M344.92 433.56h4.4v4.70h-4.4z"/><path fill="#ecd3c5" d="M344.92 266.08h4.4v0.70h-4.4z"/><path d="M344.92 266.28h4.4v167.78h-4.4z"/><path fill="#b40426" d="M346.43 434.24h4.4v4.70h-4.4z"/><path fill="#ecd3c5" d="M346.43 267.22h4.4v0.70h-4.4z"/><path d="M346.43 267.42h4.4v167.31h-4.4z"/><path fill="#b40426" d="M347.94 434.91h4.4v4.70h-4.4z"/><path fill="#ecd3c5" d="M347.94 268.36h4.4v0.70h-4.4z"/><path d="M347.94 268.56h4.4v166.84h-4.4z"/><path fill="#b40426" d="M349.46 435.58h4.4v4.70h-4.4z"/><path fill="#ecd3c5" d="M349.46 269.50h4.4v0.70h-4.4z"/><path d="M349.46 269.70h4.4v166.38h-4.4z"/><path fill="#b40426" d="M350.97 436.25h4.4v4.70h-4.4z"/><path fill="#ecd3c5" d="M350.97 270.64h4.4v0.70h-4.4z"/><path d="M350.97 270.84h4.4v165.91h-4.4z"/><path fill="#b40426" d="M352.48 436.92h4.4v4.70h-4.4z"/><path fill="#ecd3c5" d="M352.48 271.78h4.4v0.70h-4.4z"/><path d="M352.48 271.98h4.4v165.44h-4.4z"/><path fill="#b40426" d="M353.99 437.59h4.4v4.70h-4.4z"/><path fill="#ecd3c5" d="M353.99 272.92h4.4v0.70h-4.4z"/><path d="M353.99 273.12h4.4v164.98h-4.4z"/><path fill="#b40426" d="M355.50 438.26h4.4v4.70h-4.4z"/><path fill="#ecd3c5" d="M355.50 274.05h4.4v0.70h-4.4z"/><path d="M355.50 274.25h4.4v164.51h-4.4z"/><path fill="#b40426" d="M357.01 438.93h4.4v4.70h-4.4z"/><path fill="#ecd3c5" d="M357.01 275.19h4.4v0.70h-4.4z"/><path d="M357.01 275.39h4.4v164.05h-4.4z"/><path fill="#b40426" d="M358.52 439.60h4.4v4.70h-4.4z"/><path fill="#ecd3c5" d="M358.52 276.32h4.4v0.70h-4.4z"/><path d="M358.52 276.52h4.4v163.58h-4.4z"/><path fill="#b40426" d="M360.03 440.27h4.4v4.70h-4.4z"/><path fill="#ecd3c5" d="M360.03 277.45h4.4v0.70h-4.4z"/><path d="M360.03 277.65h4.4v163.12h-4.4z"/><path fill="#b40426" d="M361.54 440.94h4.4v4.70h-4.4z"/><path fill="#ecd3c5" d="M361.54 278.58h4.4v0.70h-4.4z"/><path d="M361.54 278.78h4.4v162.65h-4.4z"/><path fill="#b40426" d="M363.05 441.60h4.4v4.70h-4.4z"/><path fill="#ecd3c5" d="M363.05 279.71h4.4v0.70h-4.4z"/><path d="M363.05 279.91h4.4v162.19h-4.4z"/><path fill="#b40426" d="M364.57 442.27h4.4v4.70h-4.4z"/><path fill="#ecd3c5" d="M364.57 280.84h4.4v0.70h-4.4z"/><path d="M364.57 281.04h4.4v161.73h-4.4z"/><path fill="#b40426" d="M366.08 442.94h4.4v4.70h-4.4z"/><path fill="#ecd3c5" d="M366.08 281.97h4.4v0.70h-4.4z"/><path d="M366.08 282.17h4.4v161.27h-4.4z"/><path fill="#b40426" d="M367.59 443.60h4.4v4.70h-4.4z"/><path fill="#ecd3c5" d="M367.59 283.10h4.4v0.70h-4.4z"/><path d="M367.59 283.30h4.4v160.80h-4.4z"/><path fill="#b40426" d="M369.10 444.26h4.4v4.70h-4.4z"/><path fill="#ecd3c5" d="M369.10 284.22h4.4v0.70h-4.4z"/><path d="M369.10 284.42h4.4v160.34h-4.4z"/><path fill="#b40426" d="M370.61 444.93h4.4v4.70h-4.4z"/><path fill="#ecd3c5" d="M370.61 285.35h4.4v0.70h-4.4z"/><path d="M370.61 285.55h4.4v159.88h-4.4z"/><path fill="#b40426" d="M372.12 445.59h4.4v4.70h-4.4z"/><path fill="#ecd3c5" d="M372.12 286.47h4.4v0.70h-4.4z"/><path d="M372.12 286.67h4.4v159.42h-4.4z"/><path fill="#b40426" d="M373.63 446.26h4.4v4.70h-4.4z"/><path fill="#ecd3c5" d="M373.63 287.60h4.4v0.70h-4.4z"/><path d="M373.63 287.80h4.4v158.96h-4.4z"/><path fill="#b40426" d="M375.14 446.92h4.4v4.70h-4.4z"/><path fill="#ecd3c5" d="M375.14 288.72h4.4v0.70h-4.4z"/><path d="M375.14 288.92h4.4v158.50h-4.4z"/><path fill="#b40426" d="M376.65 447.58h4.4v4.70h-4.4z"/><path fill="#ecd3c5" d="M376.65 289.84h4.4v0.70h-4.4z"/><path d="M376.65 290.04h4.4v158.04h-4.4z"/><path fill="#b40426" d="M378.17 448.24h4.4v4.70h-4.4z"/><path fill="#ecd3c5" d="M378.17 290.96h4.4v0.70h-4.4z"/><path d="M378.17 291.16h4.4v157.58h-4.4z"/><path fill="#b40426" d="M379.68 448.90h4.4v4.70h-4.4z"/><path fill="#ecd3c5" d="M379.68 292.09h4.4v0.70h-4.4z"/><path d="M379.68 292.29h4.4v157.12h-4.4z"/><path fill="#b40426" d="M381.19 449.56h4.4v4.70h-4.4z"/><path fill="#ecd3c5" d="M381.19 293.20h4.4v0.70h-4.4z"/><path d="M381.19 293.40h4.4v156.66h-4.4z"/><path fill="#b40426" d="M382.70 450.22h4.4v4.70h-4.4z"/><path fill="#ecd3c5" d="M382.70 294.32h4.4v0.70h-4.4z"/><path d="M382.70 294.52h4.4v156.20h-4.4z"/><path fill="#b40426" d="M384.21 450.88h4.4v4.70h-4.4z"/><path fill="#ecd3c5" d="M384.21 295.44h4.4v0.70h-4.4z"/><path d="M384.21 295.64h4.4v155.74h-4.4z"/><path fill="#b40426" d="M385.72 451.54h4.4v4.70h-4.4z"/><path fill="#ecd3c5" d="M385.72 296.56h4.4v0.70h-4.4z"/><path d="M385.72 296.76h4.4v155.28h-4.4z"/><path fill="#b40426" d="M387.23 452.20h4.4v4.70h-4.4z"/><path fill="#ecd3c5" d="M387.23 297.68h4.4v0.70h-4.4z"/><path d="M387.23 297.88h4.4v154.83h-4.4z"/><path fill="#b40426" d="M388.74 452.86h4.4v4.70h-4.4z"/><path fill="#ecd3c5" d="M388.74 298.79h4.4v0.70h-4.4z"/><path d="M388.74 298.99h4.4v154.37h-4.4z"/><path fill="#b40426" d="M390.25 453.52h4.4v4.70h-4.4z"/><path fill="#ecd3c5" d="M390.25 299.91h4.4v0.70h-4.4z"/><path d="M390.25 300.11h4.4v153.91h-4.4z"/><path fill="#b40426" d="M391.76 454.18h4.4v4.70h-4.4z"/><path fill="#ecd3c5" d="M391.76 301.02h4.4v0.70h-4.4z"/><path d="M391.76 301.22h4.4v153.45h-4.4z"/><path fill="#b40426" d="M393.28 454.83h4.4v4.70h-4.4z"/><path fill="#ecd3c5" d="M393.28 302.14h4.4v0.70h-4.4z"/><path d="M393.28 302.34h4.4v153.00h-4.4z"/><path fill="#b40426" d="M394.79 455.49h4.4v4.70h-4.4z"/><path fill="#ecd3c5" d="M394.79 303.25h4.4v0.70h-4.4z"/><path d="M394.79 303.45h4.4v152.54h-4.4z"/><path fill="#b40426" d="M396.30 456.15h4.4v4.70h-4.4z"/><path fill="#ecd3c5" d="M396.30 304.36h4.4v0.70h-4.4z"/><path d="M396.30 304.56h4.4v152.08h-4.4z"/><path fill="#b40426" d="M397.81 456.80h4.4v4.70h-4.4z"/><path fill="#ecd3c5" d="M397.81 305.48h4.4v0.70h-4.4z"/><path d="M397.81 305.68h4.4v151.63h-4.4z"/><path fill="#b40426" d="M399.32 457.46h4.4v4.70h-4.4z"/><path fill="#ecd3c5" d="M399.32 306.59h4.4v0.70h-4.4z"/><path d="M399.32 306.79h4.4v151.17h-4.4z"/><path fill="#b40426" d="M400.83 458.11h4.4v4.70h-4.4z"/><path fill="#ecd3c5" d="M400.83 307.70h4.4v0.70h-4.4z"/><path d="M400.83 307.90h4.4v150.72h-4.4z"/><path fill="#b40426" d="M402.34 458.77h4.4v4.70h-4.4z"/><path fill="#ecd3c5" d="M402.34 308.81h4.4v0.70h-4.4z"/><path d="M402.34 309.01h4.4v150.26h-4.4z"/><path fill="#b40426" d="M403.85 459.42h4.4v4.70h-4.4z"/><path fill="#ecd3c5" d="M403.85 309.92h4.4v0.70h-4.4z"/><path d="M403.85 310.12h4.4v149.81h-4.4z"/><path fill="#b40426" d="M405.36 460.08h4.4v4.70h-4.4z"/><path fill="#ecd3c5" d="M405.36 311.03h4.4v0.70h-4.4z"/><path d="M405.36 311.23h4.4v149.35h-4.4z"/><path fill="#b40426" d="M406.87 460.73h4.4v4.70h-4.4z"/><path fill="#ecd3c5" d="M406.87 312.14h4.4v0.70h-4.4z"/><path d="M406.87 312.34h4.4v148.90h-4.4z"/><path fill="#b40426" d="M408.39 461.39h4.4v4.70h-4.4z"/><path fill="#ecd3c5" d="M408.39 313.24h4.4v0.70h-4.4z"/><path d="M408.39 313.44h4.4v148.44h-4.4z"/><path fill="#b40426" d="M409.90 462.04h4.4v4.70h-4.4z"/><path fill="#ecd3c5" d="M409.90 314.35h4.4v0.70h-4.4z"/><path d="M409.90 314.55h4.4v147.99h-4.4z"/><path fill="#b40426" d="M411.41 462.69h4.4v4.70h-4.4z"/><path fill="#ecd3c5" d="M411.41 315.46h4.4v0.70h-4.4z"/><path d="M411.41 315.66h4.4v147.53h-4.4z"/><path fill="#b40426" d="M412.92 463.35h4.4v4.70h-4.4z"/><path fill="#ecd3c5" d="M412.92 316.57h4.4v0.70h-4.4z"/><path d="M412.92 316.77h4.4v147.08h-4.4z"/><path fill="#b40426" d="M414.43 464.00h4.4v4.70h-4.4z"/><path fill="#ecd3c5" d="M414.43 317.67h4.4v0.70h-4.4z"/><path d="M414.43 317.87h4.4v146.63h-4.4z"/><path fill="#b40426" d="M415.94 464.65h4.4v4.70h-4.4z"/><path fill="#ecd3c5" d="M415.94 318.78h4.4v0.70h-4.4z"/><path d="M415.94 318.98h4.4v146.17h-4.4z"/><path fill="#b40426" d="M417.45 465.30h4.4v4.70h-4.4z"/><path fill="#ecd3c5" d="M417.45 319.88h4.4v0.70h-4.4z"/><path d="M417.45 320.08h4.4v145.72h-4.4z"/><path fill="#b40426" d="M418.96 465.96h4.4v4.70h-4.4z"/><path fill="#ecd3c5" d="M418.96 320.99h4.4v0.70h-4.4z"/><path d="M418.96 321.19h4.4v145.27h-4.4z"/><path fill="#b40426" d="M420.47 466.61h4.4v4.70h-4.4z"/><path fill="#ecd3c5" d="M420.47 322.09h4.4v0.70h-4.4z"/><path d="M420.47 322.29h4.4v144.81h-4.4z"/><path fill="#b40426" d="M421.98 467.26h4.4v4.70h-4.4z"/><path fill="#ecd3c5" d="M421.98 323.20h4.4v0.70h-4.4z"/><path d="M421.98 323.40h4.4v144.36h-4.4z"/><path fill="#b40426" d="M423.50 467.91h4.4v4.70h-4.4z"/><path fill="#ecd3c5" d="M423.50 324.30h4.4v0.70h-4.4z"/><path d="M423.50 324.50h4.4v143.91h-4.4z"/><path fill="#b40426" d="M425.01 468.56h4.4v4.70h-4.4z"/><path fill="#ecd3c5" d="M425.01 325.41h4.4v0.70h-4.4z"/><path d="M425.01 325.61h4.4v143.46h-4.4z"/><path fill="#b40426" d="M426.52 469.21h4.4v4.70h-4.4z"/><path fill="#ecd3c5" d="M426.52 326.51h4.4v0.70h-4.4z"/><path d="M426.52 326.71h4.4v143.00h-4.4z"/><path fill="#b40426" d="M428.03 469.86h4.4v4.70h-4.4z"/><path fill="#ecd3c5" d="M428.03 327.61h4.4v0.70h-4.4z"/><path d="M428.03 327.81h4.4v142.55h-4.4z"/><path fill="#b40426" d="M429.54 470.52h4.4v4.70h-4.4z"/><path fill="#ecd3c5" d="M429.54 328.72h4.4v0.70h-4.4z"/><path d="M429.54 328.92h4.4v142.10h-4.4z"/><path fill="#b40426" d="M431.05 471.17h4.4v4.70h-4.4z"/><path fill="#ecd3c5" d="M431.05 329.82h4.4v0.70h-4.4z"/><path d="M431.05 330.02h4.4v141.65h-4.4z"/><path fill="#b40426" d="M432.56 471.82h4.4v4.70h-4.4z"/><path fill="#ecd3c5" d="M432.56 330.92h4.4v0.70h-4.4z"/><path d="M432.56 331.12h4.4v141.20h-4.4z"/><path fill="#b40426" d="M434.07 472.47h4.4v4.70h-4.4z"/><path fill="#ecd3c5" d="M434.07 332.02h4.4v0.70h-4.4z"/><path d="M434.07 332.22h4.4v140.74h-4.4z"/><path fill="#b40426" d="M435.58 473.12h4.4v4.70h-4.4z"/><path fill="#ecd3c5" d="M435.58 333.13h4.4v0.70h-4.4z"/><path d="M435.58 333.33h4.4v140.29h-4.4z"/><path fill="#b40426" d="M437.10 473.77h4.4v4.70h-4.4z"/><path fill="#ecd3c5" d="M437.10 334.23h4.4v0.70h-4.4z"/><path d="M437.10 334.43h4.4v139.84h-4.4z"/><path fill="#b40426" d="M438.61 474.42h4.4v4.70h-4.4z"/><path fill="#ecd3c5" d="M438.61 335.33h4.4v0.70h-4.4z"/><path d="M438.61 335.53h4.4v139.39h-4.4z"/><path fill="#b40426" d="M440.12 475.07h4.4v4.70h-4.4z"/><path fill="#ecd3c5" d="M440.12 336.43h4.4v0.70h-4.4z"/><path d="M440.12 336.63h4.4v138.94h-4.4z"/><path fill="#b40426" d="M441.63 475.72h4.4v4.70h-4.4z"/><path fill="#ecd3c5" d="M441.63 337.53h4.4v0.70h-4.4z"/><path d="M441.63 337.73h4.4v138.49h-4.4z"/><path fill="#b40426" d="M443.14 476.37h4.4v4.70h-4.4z"/><path fill="#ecd3c5" d="M443.14 338.63h4.4v0.70h-4.4z"/><path d="M443.14 338.83h4.4v138.03h-4.4z"/><path fill="#b40426" d="M444.65 477.02h4.4v4.70h-4.4z"/><path fill="#ecd3c5" d="M444.65 339.73h4.4v0.70h-4.4z"/><path d="M444.65 339.93h4.4v137.58h-4.4z"/><path fill="#b40426" d="M446.16 477.67h4.4v4.70h-4.4z"/><path fill="#ecd3c5" d="M446.16 340.83h4.4v0.70h-4.4z"/><path d="M446.16 341.03h4.4v137.13h-4.4z"/><path fill="#b40426" d="M447.67 478.31h4.4v4.70h-4.4z"/><path fill="#ecd3c5" d="M447.67 341.93h4.4v0.70h-4.4z"/><path d="M447.67 342.13h4.4v136.68h-4.4z"/><path fill="#b40426" d="M449.18 478.96h4.4v4.70h-4.4z"/><path fill="#ecd3c5" d="M449.18 343.04h4.4v0.70h-4.4z"/><path d="M449.18 343.24h4.4v136.23h-4.4z"/><path fill="#b40426" d="M450.69 479.61h4.4v4.70h-4.4z"/><path fill="#ecd3c5" d="M450.69 344.14h4.4v0.70h-4.4z"/><path d="M450.69 344.34h4.4v135.78h-4.4z"/><path fill="#b40426" d="M452.21 480.26h4.4v4.70h-4.4z"/><path fill="#ecd3c5" d="M452.21 345.24h4.4v0.70h-4.4z"/><path d="M452.21 345.44h4.4v135.33h-4.4z"/><path fill="#b40426" d="M453.72 480.91h4.4v4.70h-4.4z"/><path fill="#ecd3c5" d="M453.72 346.34h4.4v0.70h-4.4z"/><path d="M453.72 346.54h4.4v134.87h-4.4z"/><path fill="#b40426" d="M455.23 481.56h4.4v4.70h-4.4z"/><path fill="#ecd3c5" d="M455.23 347.44h4.4v0.70h-4.4z"/><path d="M455.23 347.64h4.4v134.42h-4.4z"/><path fill="#b40426" d="M456.74 482.21h4.4v4.70h-4.4z"/><path fill="#ecd3c5" d="M456.74 348.54h4.4v0.70h-4.4z"/><path d="M456.74 348.74h4.4v133.97h-4.4z"/><path fill="#b40426" d="M458.25 482.86h4.4v4.70h-4.4z"/><path fill="#ecd3c5" d="M458.25 349.64h4.4v0.70h-4.4z"/><path d="M458.25 349.84h4.4v133.52h-4.4z"/><path fill="#b40426" d="M459.76 483.51h4.4v4.70h-4.4z"/><path fill="#ecd3c5" d="M459.76 350.74h4.4v0.70h-4.4z"/><path d="M459.76 350.94h4.4v133.07h-4.4z"/><path fill="#b40426" d="M461.27 484.16h4.4v4.70h-4.4z"/><path fill="#ecd3c5" d="M461.27 351.84h4.4v0.70h-4.4z"/><path d="M461.27 352.04h4.4v132.62h-4.4z"/><path fill="#b40426" d="M462.78 484.81h4.4v4.70h-4.4z"/><path fill="#ecd3c5" d="M462.78 352.94h4.4v0.70h-4.4z"/><path d="M462.78 353.14h4.4v132.17h-4.4z"/><path fill="#b40426" d="M464.29 485.46h4.4v4.70h-4.4z"/><path fill="#ecd3c5" d="M464.29 354.05h4.4v0.70h-4.4z"/><path d="M464.29 354.25h4.4v131.71h-4.4z"/><path fill="#b40426" d="M465.80 486.11h4.4v4.70h-4.4z"/><path fill="#ecd3c5" d="M465.80 355.15h4.4v0.70h-4.4z"/><path d="M465.80 355.35h4.4v131.26h-4.4z"/><path fill="#b40426" d="M467.32 486.76h4.4v4.70h-4.4z"/><path fill="#ecd3c5" d="M467.32 356.25h4.4v0.70h-4.4z"/><path d="M467.32 356.45h4.4v130.81h-4.4z"/><path fill="#b40426" d="M468.83 487.41h4.4v4.70h-4.4z"/><path fill="#ecd3c5" d="M468.83 357.35h4.4v0.70h-4.4z"/><path d="M468.83 357.55h4.4v130.36h-4.4z"/><path fill="#b40426" d="M470.34 488.06h4.4v4.70h-4.4z"/><path fill="#ecd3c5" d="M470.34 358.45h4.4v0.70h-4.4z"/><path d="M470.34 358.65h4.4v129.91h-4.4z"/><path fill="#b40426" d="M471.85 488.71h4.4v4.70h-4.4z"/><path fill="#ecd3c5" d="M471.85 359.55h4.4v0.70h-4.4z"/><path d="M471.85 359.75h4.4v129.46h-4.4z"/><path fill="#b40426" d="M473.36 489.36h4.4v4.70h-4.4z"/><path fill="#ecd3c5" d="M473.36 360.66h4.4v0.70h-4.4z"/><path d="M473.36 360.86h4.4v129.00h-4.4z"/><path fill="#b40426" d="M474.87 490.01h4.4v4.70h-4.4z"/><path fill="#ecd3c5" d="M474.87 361.76h4.4v0.70h-4.4z"/><path d="M474.87 361.96h4.4v128.55h-4.4z"/><path fill="#b40426" d="M476.38 490.66h4.4v4.70h-4.4z"/><path fill="#ecd3c5" d="M476.38 362.86h4.4v0.70h-4.4z"/><path d="M476.38 363.06h4.4v128.10h-4.4z"/><path fill="#b40426" d="M477.89 491.31h4.4v4.70h-4.4z"/><path fill="#ecd3c5" d="M477.89 363.97h4.4v0.70h-4.4z"/><path d="M477.89 364.17h4.4v127.65h-4.4z"/><path fill="#b40426" d="M479.40 491.96h4.4v4.70h-4.4z"/><path fill="#ecd3c5" d="M479.40 365.07h4.4v0.70h-4.4z"/><path d="M479.40 365.27h4.4v127.19h-4.4z"/><path fill="#b40426" d="M480.92 492.62h4.4v4.70h-4.4z"/><path fill="#ecd3c5" d="M480.92 366.17h4.4v0.70h-4.4z"/><path d="M480.92 366.37h4.4v126.74h-4.4z"/><path fill="#b40426" d="M482.43 493.27h4.4v4.70h-4.4z"/><path fill="#ecd3c5" d="M482.43 367.28h4.4v0.70h-4.4z"/><path d="M482.43 367.48h4.4v126.29h-4.4z"/><path fill="#b40426" d="M483.94 493.92h4.4v4.70h-4.4z"/><path fill="#ecd3c5" d="M483.94 368.38h4.4v0.70h-4.4z"/><path d="M483.94 368.58h4.4v125.84h-4.4z"/><path fill="#b40426" d="M485.45 494.57h4.4v4.70h-4.4z"/><path fill="#ecd3c5" d="M485.45 369.49h4.4v0.70h-4.4z"/><path d="M485.45 369.69h4.4v125.38h-4.4z"/><path fill="#b40426" d="M486.96 495.22h4.4v4.70h-4.4z"/><path fill="#ecd3c5" d="M486.96 370.59h4.4v0.70h-4.4z"/><path d="M486.96 370.79h4.4v124.93h-4.4z"/><path fill="#b40426" d="M488.47 495.88h4.4v4.70h-4.4z"/><path fill="#ecd3c5" d="M488.47 371.70h4.4v0.70h-4.4z"/><path d="M488.47 371.90h4.4v124.48h-4.4z"/><path fill="#b40426" d="M489.98 496.53h4.4v4.70h-4.4z"/><path fill="#ecd3c5" d="M489.98 372.81h4.4v0.70h-4.4z"/><path d="M489.98 373.01h4.4v124.02h-4.4z"/><path fill="#b40426" d="M491.49 497.18h4.4v4.70h-4.4z"/><path fill="#ecd3c5" d="M491.49 373.91h4.4v0.70h-4.4z"/><path d="M491.49 374.11h4.4v123.57h-4.4z"/><path fill="#b40426" d="M493.00 497.84h4.4v4.70h-4.4z"/><path fill="#ecd3c5" d="M493.00 375.02h4.4v0.70h-4.4z"/><path d="M493.00 375.22h4.4v123.11h-4.4z"/><path fill="#b40426" d="M494.51 498.49h4.4v4.70h-4.4z"/><path fill="#ecd3c5" d="M494.51 376.13h4.4v0.70h-4.4z"/><path d="M494.51 376.33h4.4v122.66h-4.4z"/><path fill="#b40426" d="M496.03 499.14h4.4v4.70h-4.4z"/><path fill="#ecd3c5" d="M496.03 377.24h4.4v0.70h-4.4z"/><path d="M496.03 377.44h4.4v122.21h-4.4z"/><path fill="#b40426" d="M497.54 499.80h4.4v4.70h-4.4z"/><path fill="#ecd3c5" d="M497.54 378.35h4.4v0.70h-4.4z"/><path d="M497.54 378.55h4.4v121.75h-4.4z"/><path fill="#b40426" d="M499.05 500.45h4.4v4.70h-4.4z"/><path fill="#ecd3c5" d="M499.05 379.46h4.4v0.70h-4.4z"/><path d="M499.05 379.66h4.4v121.30h-4.4z"/><path fill="#b40426" d="M500.56 501.11h4.4v4.70h-4.4z"/><path fill="#ecd3c5" d="M500.56 380.57h4.4v0.70h-4.4z"/><path d="M500.56 380.77h4.4v120.84h-4.4z"/><path fill="#b40426" d="M502.07 501.76h4.4v4.70h-4.4z"/><path fill="#ecd3c5" d="M502.07 381.68h4.4v0.70h-4.4z"/><path d="M502.07 381.88h4.4v120.38h-4.4z"/><path fill="#b40426" d="M503.58 502.42h4.4v4.70h-4.4z"/><path fill="#ecd3c5" d="M503.58 382.79h4.4v0.70h-4.4z"/><path d="M503.58 382.99h4.4v119.93h-4.4z"/><path fill="#b40426" d="M505.09 503.08h4.4v4.70h-4.4z"/><path fill="#ecd3c5" d="M505.09 383.91h4.4v0.70h-4.4z"/><path d="M505.09 384.11h4.4v119.47h-4.4z"/><path fill="#b40426" d="M506.60 503.73h4.4v4.70h-4.4z"/><path fill="#ecd3c5" d="M506.60 385.02h4.4v0.70h-4.4z"/><path d="M506.60 385.22h4.4v119.02h-4.4z"/><path fill="#b40426" d="M508.11 504.39h4.4v4.70h-4.4z"/><path fill="#ecd3c5" d="M508.11 386.13h4.4v0.70h-4.4z"/><path d="M508.11 386.33h4.4v118.56h-4.4z"/><path fill="#b40426" d="M509.62 505.05h4.4v4.70h-4.4z"/><path fill="#ecd3c5" d="M509.62 387.25h4.4v0.70h-4.4z"/><path d="M509.62 387.45h4.4v118.10h-4.4z"/><path fill="#b40426" d="M511.14 505.71h4.4v4.70h-4.4z"/><path fill="#ecd3c5" d="M511.14 388.36h4.4v0.70h-4.4z"/><path d="M511.14 388.56h4.4v117.64h-4.4z"/><path fill="#b40426" d="M512.65 506.37h4.4v4.70h-4.4z"/><path fill="#ecd3c5" d="M512.65 389.48h4.4v0.70h-4.4z"/><path d="M512.65 389.68h4.4v117.19h-4.4z"/><path fill="#b40426" d="M514.16 507.03h4.4v4.70h-4.4z"/><path fill="#ecd3c5" d="M514.16 390.60h4.4v0.70h-4.4z"/><path d="M514.16 390.80h4.4v116.73h-4.4z"/><path fill="#b40426" d="M515.67 507.69h4.4v4.70h-4.4z"/><path fill="#ecd3c5" d="M515.67 391.72h4.4v0.70h-4.4z"/><path d="M515.67 391.92h4.4v116.27h-4.4z"/><path fill="#b40426" d="M517.18 508.35h4.4v4.70h-4.4z"/><path fill="#ecd3c5" d="M517.18 392.84h4.4v0.70h-4.4z"/><path d="M517.18 393.04h4.4v115.81h-4.4z"/><path fill="#b40426" d="M518.69 509.01h4.4v4.70h-4.4z"/><path fill="#ecd3c5" d="M518.69 393.96h4.4v0.70h-4.4z"/><path d="M518.69 394.16h4.4v115.35h-4.4z"/><path fill="#b40426" d="M520.20 509.67h4.4v4.70h-4.4z"/><path fill="#ecd3c5" d="M520.20 395.08h4.4v0.70h-4.4z"/><path d="M520.20 395.28h4.4v114.89h-4.4z"/><path fill="#b40426" d="M521.71 510.33h4.4v4.70h-4.4z"/><path fill="#ecd3c5" d="M521.71 396.20h4.4v0.70h-4.4z"/><path d="M521.71 396.40h4.4v114.43h-4.4z"/><path fill="#b40426" d="M523.22 510.99h4.4v4.70h-4.4z"/><path fill="#ecd3c5" d="M523.22 397.32h4.4v0.70h-4.4z"/><path d="M523.22 397.52h4.4v113.97h-4.4z"/><path fill="#b40426" d="M524.73 511.66h4.4v4.70h-4.4z"/><path fill="#ecd3c5" d="M524.73 398.45h4.4v0.70h-4.4z"/><path d="M524.73 398.65h4.4v113.51h-4.4z"/><path fill="#b40426" d="M526.25 512.32h4.4v4.70h-4.4z"/><path fill="#ecd3c5" d="M526.25 399.57h4.4v0.70h-4.4z"/><path d="M526.25 399.77h4.4v113.05h-4.4z"/><path fill="#b40426" d="M527.76 512.99h4.4v4.70h-4.4z"/><path fill="#ecd3c5" d="M527.76 400.70h4.4v0.70h-4.4z"/><path d="M527.76 400.90h4.4v112.59h-4.4z"/><path fill="#b40426" d="M529.27 513.65h4.4v4.70h-4.4z"/><path fill="#ecd3c5" d="M529.27 401.83h4.4v0.70h-4.4z"/><path d="M529.27 402.03h4.4v112.12h-4.4z"/><path fill="#b40426" d="M530.78 514.32h4.4v4.70h-4.4z"/><path fill="#ecd3c5" d="M530.78 402.96h4.4v0.70h-4.4z"/><path d="M530.78 403.16h4.4v111.66h-4.4z"/><path fill="#b40426" d="M532.29 514.99h4.4v4.70h-4.4z"/><path fill="#ecd3c5" d="M532.29 404.09h4.4v0.70h-4.4z"/><path d="M532.29 404.29h4.4v111.20h-4.4z"/><path fill="#b40426" d="M533.80 515.65h4.4v4.70h-4.4z"/><path fill="#ecd3c5" d="M533.80 405.22h4.4v0.70h-4.4z"/><path d="M533.80 405.42h4.4v110.73h-4.4z"/><path fill="#b40426" d="M535.31 516.32h4.4v4.70h-4.4z"/><path fill="#ecd3c5" d="M535.31 406.35h4.4v0.70h-4.4z"/><path d="M535.31 406.55h4.4v110.27h-4.4z"/><path fill="#b40426" d="M536.82 516.99h4.4v4.70h-4.4z"/><path fill="#ecd3c5" d="M536.82 407.49h4.4v0.70h-4.4z"/><path d="M536.82 407.69h4.4v109.80h-4.4z"/><path fill="#b40426" d="M538.33 517.66h4.4v4.70h-4.4z"/><path fill="#ecd3c5" d="M538.33 408.62h4.4v0.70h-4.4z"/><path d="M538.33 408.82h4.4v109.34h-4.4z"/><path fill="#b40426" d="M539.85 518.33h4.4v4.70h-4.4z"/><path fill="#ecd3c5" d="M539.85 409.76h4.4v0.70h-4.4z"/><path d="M539.85 409.96h4.4v108.87h-4.4z"/><path fill="#b40426" d="M541.36 519.00h4.4v4.70h-4.4z"/><path fill="#ecd3c5" d="M541.36 410.90h4.4v0.70h-4.4z"/><path d="M541.36 411.10h4.4v108.40h-4.4z"/><path fill="#b40426" d="M542.87 519.68h4.4v4.70h-4.4z"/><path fill="#ecd3c5" d="M542.87 412.04h4.4v0.70h-4.4z"/><path d="M542.87 412.24h4.4v107.94h-4.4z"/><path fill="#b40426" d="M544.38 520.35h4.4v4.70h-4.4z"/><path fill="#ecd3c5" d="M544.38 413.18h4.4v0.70h-4.4z"/><path d="M544.38 413.38h4.4v107.47h-4.4z"/><path fill="#b40426" d="M545.89 521.02h4.4v4.70h-4.4z"/><path fill="#ecd3c5" d="M545.89 414.32h4.4v0.70h-4.4z"/><path d="M545.89 414.52h4.4v107.00h-4.4z"/><path fill="#b40426" d="M547.40 521.70h4.4v4.70h-4.4z"/><path fill="#ecd3c5" d="M547.40 415.47h4.4v0.70h-4.4z"/><path d="M547.40 415.67h4.4v106.53h-4.4z"/><path fill="#b40426" d="M548.91 522.37h4.4v4.70h-4.4z"/><path fill="#ecd3c5" d="M548.91 416.61h4.4v0.70h-4.4z"/><path d="M548.91 416.81h4.4v106.06h-4.4z"/><path fill="#b40426" d="M550.42 523.05h4.4v4.70h-4.4z"/><path fill="#ecd3c5" d="M550.42 417.76h4.4v0.70h-4.4z"/><path d="M550.42 417.96h4.4v105.59h-4.4z"/><path fill="#b40426" d="M551.93 523.73h4.4v4.70h-4.4z"/><path fill="#ecd3c5" d="M551.93 418.91h4.4v0.70h-4.4z"/><path d="M551.93 419.11h4.4v105.12h-4.4z"/><path fill="#b40426" d="M553.44 524.41h4.4v4.70h-4.4z"/><path fill="#ecd3c5" d="M553.44 420.06h4.4v0.70h-4.4z"/><path d="M553.44 420.26h4.4v104.65h-4.4z"/><path fill="#b40426" d="M554.96 525.09h4.4v4.70h-4.4z"/><path fill="#ecd3c5" d="M554.96 421.21h4.4v0.70h-4.4z"/><path d="M554.96 421.41h4.4v104.18h-4.4z"/><path fill="#b40426" d="M556.47 525.77h4.4v4.70h-4.4z"/><path fill="#ecd3c5" d="M556.47 422.37h4.4v0.70h-4.4z"/><path d="M556.47 422.57h4.4v103.70h-4.4z"/><path fill="#b40426" d="M557.98 526.45h4.4v4.70h-4.4z"/><path fill="#ecd3c5" d="M557.98 423.52h4.4v0.70h-4.4z"/><path d="M557.98 423.72h4.4v103.23h-4.4z"/><path fill="#b40426" d="M559.49 527.13h4.4v4.70h-4.4z"/><path fill="#ecd3c5" d="M559.49 424.68h4.4v0.70h-4.4z"/><path d="M559.49 424.88h4.4v102.75h-4.4z"/><path fill="#b40426" d="M561.00 527.82h4.4v4.70h-4.4z"/><path fill="#ecd3c5" d="M561.00 425.84h4.4v0.70h-4.4z"/><path d="M561.00 426.04h4.4v102.28h-4.4z"/><path fill="#b40426" d="M562.51 528.50h4.4v4.70h-4.4z"/><path fill="#ecd3c5" d="M562.51 427.00h4.4v0.70h-4.4z"/><path d="M562.51 427.20h4.4v101.80h-4.4z"/><path fill="#b40426" d="M564.02 529.19h4.4v4.70h-4.4z"/><path fill="#ecd3c5" d="M564.02 428.17h4.4v0.70h-4.4z"/><path d="M564.02 428.37h4.4v101.32h-4.4z"/><path fill="#b40426" d="M565.53 529.88h4.4v4.70h-4.4z"/><path fill="#ecd3c5" d="M565.53 429.33h4.4v0.70h-4.4z"/><path d="M565.53 429.53h4.4v100.85h-4.4z"/><path fill="#b40426" d="M567.04 530.57h4.4v4.70h-4.4z"/><path fill="#ecd3c5" d="M567.04 430.50h4.4v0.70h-4.4z"/><path d="M567.04 430.70h4.4v100.37h-4.4z"/><path fill="#b40426" d="M568.55 531.26h4.4v4.70h-4.4z"/><path fill="#ecd3c5" d="M568.55 431.67h4.4v0.70h-4.4z"/><path d="M568.55 431.87h4.4v99.89h-4.4z"/><path fill="#b40426" d="M570.07 531.95h4.4v4.70h-4.4z"/><path fill="#ecd3c5" d="M570.07 432.84h4.4v0.70h-4.4z"/><path d="M570.07 433.04h4.4v99.41h-4.4z"/><path fill="#b40426" d="M571.58 532.64h4.4v4.70h-4.4z"/><path fill="#ecd3c5" d="M571.58 434.02h4.4v0.70h-4.4z"/><path d="M571.58 434.22h4.4v98.93h-4.4z"/><path fill="#b40426" d="M573.09 533.34h4.4v4.70h-4.4z"/><path fill="#ecd3c5" d="M573.09 435.20h4.4v0.70h-4.4z"/><path d="M573.09 435.40h4.4v98.44h-4.4z"/><path fill="#b40426" d="M574.60 534.03h4.4v4.70h-4.4z"/><path fill="#ecd3c5" d="M574.60 436.37h4.4v0.70h-4.4z"/><path d="M574.60 436.57h4.4v97.96h-4.4z"/><path fill="#b40426" d="M576.11 534.73h4.4v4.70h-4.4z"/><path fill="#ecd3c5" d="M576.11 437.56h4.4v0.70h-4.4z"/><path d="M576.11 437.76h4.4v97.48h-4.4z"/><path fill="#b40426" d="M577.62 535.43h4.4v4.70h-4.4z"/><path fill="#ecd3c5" d="M577.62 438.74h4.4v0.70h-4.4z"/><path d="M577.62 438.94h4.4v96.99h-4.4z"/><path fill="#b40426" d="M579.13 536.13h4.4v4.70h-4.4z"/><path fill="#ecd3c5" d="M579.13 439.93h4.4v0.70h-4.4z"/><path d="M579.13 440.13h4.4v96.50h-4.4z"/><path fill="#b40426" d="M580.64 536.83h4.4v4.70h-4.4z"/><path fill="#ecd3c5" d="M580.64 441.12h4.4v0.70h-4.4z"/><path d="M580.64 441.32h4.4v96.02h-4.4z"/><path fill="#b40426" d="M582.15 537.53h4.4v4.70h-4.4z"/><path fill="#ecd3c5" d="M582.15 442.31h4.4v0.70h-4.4z"/><path d="M582.15 442.51h4.4v95.53h-4.4z"/><path fill="#b40426" d="M583.66 538.24h4.4v4.70h-4.4z"/><path fill="#ecd3c5" d="M583.66 443.50h4.4v0.70h-4.4z"/><path d="M583.66 443.70h4.4v95.04h-4.4z"/><path fill="#b40426" d="M585.18 538.94h4.4v4.70h-4.4z"/><path fill="#ecd3c5" d="M585.18 444.70h4.4v0.70h-4.4z"/><path d="M585.18 444.90h4.4v94.55h-4.4z"/><path fill="#b40426" d="M586.69 539.65h4.4v4.70h-4.4z"/><path fill="#ecd3c5" d="M586.69 445.90h4.4v0.70h-4.4z"/><path d="M586.69 446.10h4.4v94.06h-4.4z"/><path fill="#b40426" d="M588.20 540.36h4.4v4.70h-4.4z"/><path fill="#ecd3c5" d="M588.20 447.10h4.4v0.70h-4.4z"/><path d="M588.20 447.30h4.4v93.56h-4.4z"/><path fill="#b40426" d="M589.71 541.07h4.4v4.70h-4.4z"/><path fill="#ecd3c5" d="M589.71 448.30h4.4v0.70h-4.4z"/><path d="M589.71 448.50h4.4v93.07h-4.4z"/><path fill="#b40426" d="M591.22 541.79h4.4v4.70h-4.4z"/><path fill="#ecd3c5" d="M591.22 449.51h4.4v0.70h-4.4z"/><path d="M591.22 449.71h4.4v92.57h-4.4z"/><path fill="#b40426" d="M592.73 542.50h4.4v4.70h-4.4z"/><path fill="#ecd3c5" d="M592.73 450.72h4.4v0.70h-4.4z"/><path d="M592.73 450.92h4.4v92.08h-4.4z"/><path fill="#b40426" d="M594.24 543.22h4.4v4.70h-4.4z"/><path fill="#ecd3c5" d="M594.24 451.94h4.4v0.70h-4.4z"/><path d="M594.24 452.14h4.4v91.58h-4.4z"/><path fill="#b40426" d="M595.75 543.93h4.4v4.70h-4.4z"/><path fill="#ecd3c5" d="M595.75 453.16h4.4v0.70h-4.4z"/><path d="M595.75 453.36h4.4v91.08h-4.4z"/><path fill="#b40426" d="M597.26 544.65h4.4v4.70h-4.4z"/><path fill="#ecd3c5" d="M597.26 454.38h4.4v0.70h-4.4z"/><path d="M597.26 454.58h4.4v90.58h-4.4z"/><path fill="#b40426" d="M598.78 545.38h4.4v4.70h-4.4z"/><path fill="#ecd3c5" d="M598.78 455.60h4.4v0.70h-4.4z"/><path d="M598.78 455.80h4.4v90.08h-4.4z"/><path fill="#b40426" d="M600.29 546.10h4.4v4.70h-4.4z"/><path fill="#ecd3c5" d="M600.29 456.83h4.4v0.70h-4.4z"/><path d="M600.29 457.03h4.4v89.57h-4.4z"/><path fill="#b40426" d="M601.80 546.83h4.4v4.70h-4.4z"/><path fill="#ecd3c5" d="M601.80 458.06h4.4v0.70h-4.4z"/><path d="M601.80 458.26h4.4v89.07h-4.4z"/><path fill="#b40426" d="M603.31 547.55h4.4v4.70h-4.4z"/><path fill="#ecd3c5" d="M603.31 459.29h4.4v0.70h-4.4z"/><path d="M603.31 459.49h4.4v88.56h-4.4z"/><path fill="#b40426" d="M604.82 548.28h4.4v4.70h-4.4z"/><path fill="#ecd3c5" d="M604.82 460.53h4.4v0.70h-4.4z"/><path d="M604.82 460.73h4.4v88.06h-4.4z"/><path fill="#b40426" d="M606.33 549.02h4.4v4.70h-4.4z"/><path fill="#ecd3c5" d="M606.33 461.77h4.4v0.70h-4.4z"/><path d="M606.33 461.97h4.4v87.55h-4.4z"/><path fill="#b40426" d="M607.84 549.75h4.4v4.70h-4.4z"/><path fill="#ecd3c5" d="M607.84 463.01h4.4v0.70h-4.4z"/><path d="M607.84 463.21h4.4v87.04h-4.4z"/><path fill="#b40426" d="M609.35 550.49h4.4v4.70h-4.4z"/><path fill="#ecd3c5" d="M609.35 464.26h4.4v0.70h-4.4z"/><path d="M609.35 464.46h4.4v86.53h-4.4z"/><path fill="#b40426" d="M610.86 551.23h4.4v4.70h-4.4z"/><path fill="#ecd3c5" d="M610.86 465.52h4.4v0.70h-4.4z"/><path d="M610.86 465.72h4.4v86.01h-4.4z"/><path fill="#b40426" d="M612.37 551.97h4.4v4.70h-4.4z"/><path fill="#ecd3c5" d="M612.37 466.77h4.4v0.70h-4.4z"/><path d="M612.37 466.97h4.4v85.50h-4.4z"/><path fill="#b40426" d="M613.89 552.71h4.4v4.70h-4.4z"/><path fill="#ecd3c5" d="M613.89 468.03h4.4v0.70h-4.4z"/><path d="M613.89 468.23h4.4v84.98h-4.4z"/><path fill="#b40426" d="M615.40 553.46h4.4v4.70h-4.4z"/><path fill="#ecd3c5" d="M615.40 469.30h4.4v0.70h-4.4z"/><path d="M615.40 469.50h4.4v84.46h-4.4z"/><path fill="#b40426" d="M616.91 554.21h4.4v4.70h-4.4z"/><path fill="#ecd3c5" d="M616.91 470.57h4.4v0.70h-4.4z"/><path d="M616.91 470.77h4.4v83.94h-4.4z"/><path fill="#b40426" d="M618.42 554.96h4.4v4.70h-4.4z"/><path fill="#ecd3c5" d="M618.42 471.84h4.4v0.70h-4.4z"/><path d="M618.42 472.04h4.4v83.42h-4.4z"/><path fill="#b40426" d="M619.93 555.71h4.4v4.70h-4.4z"/><path fill="#ecd3c5" d="M619.93 473.12h4.4v0.70h-4.4z"/><path d="M619.93 473.32h4.4v82.90h-4.4z"/><path fill="#b40426" d="M621.44 556.47h4.4v4.70h-4.4z"/><path fill="#ecd3c5" d="M621.44 474.40h4.4v0.70h-4.4z"/><path d="M621.44 474.60h4.4v82.37h-4.4z"/><path fill="#b40426" d="M622.95 557.23h4.4v4.70h-4.4z"/><path fill="#ecd3c5" d="M622.95 475.68h4.4v0.70h-4.4z"/><path d="M622.95 475.88h4.4v81.84h-4.4z"/><path fill="#b40426" d="M624.46 557.99h4.4v4.70h-4.4z"/><path fill="#ecd3c5" d="M624.46 476.98h4.4v0.70h-4.4z"/><path d="M624.46 477.18h4.4v81.31h-4.4z"/><path fill="#b40426" d="M625.97 558.75h4.4v4.70h-4.4z"/><path fill="#ecd3c5" d="M625.97 478.27h4.4v0.70h-4.4z"/><path d="M625.97 478.47h4.4v80.78h-4.4z"/><path fill="#b40426" d="M627.48 559.52h4.4v4.70h-4.4z"/><path fill="#ecd3c5" d="M627.48 479.57h4.4v0.70h-4.4z"/><path d="M627.48 479.77h4.4v80.25h-4.4z"/><path fill="#b40426" d="M629.00 560.29h4.4v4.70h-4.4z"/><path fill="#ecd3c5" d="M629.00 480.88h4.4v0.70h-4.4z"/><path d="M629.00 481.08h4.4v79.71h-4.4z"/><path fill="#b40426" d="M630.51 561.06h4.4v4.70h-4.4z"/><path fill="#ecd3c5" d="M630.51 482.19h4.4v0.70h-4.4z"/><path d="M630.51 482.39h4.4v79.18h-4.4z"/><path fill="#b40426" d="M632.02 561.84h4.4v4.70h-4.4z"/><path fill="#ecd3c5" d="M632.02 483.51h4.4v0.70h-4.4z"/><path d="M632.02 483.71h4.4v78.64h-4.4z"/><path fill="#b40426" d="M633.53 562.62h4.4v4.70h-4.4z"/><path fill="#ecd3c5" d="M633.53 484.83h4.4v0.70h-4.4z"/><path d="M633.53 485.03h4.4v78.09h-4.4z"/><path fill="#b40426" d="M635.04 563.40h4.4v4.70h-4.4z"/><path fill="#ecd3c5" d="M635.04 486.15h4.4v0.70h-4.4z"/><path d="M635.04 486.35h4.4v77.55h-4.4z"/><path fill="#b40426" d="M636.55 564.19h4.4v4.70h-4.4z"/><path fill="#ecd3c5" d="M636.55 487.49h4.4v0.70h-4.4z"/><path d="M636.55 487.69h4.4v77.00h-4.4z"/><path fill="#b40426" d="M638.06 564.98h4.4v4.70h-4.4z"/><path fill="#ecd3c5" d="M638.06 488.83h4.4v0.70h-4.4z"/><path d="M638.06 489.03h4.4v76.45h-4.4z"/><path fill="#b40426" d="M639.57 565.77h4.4v4.70h-4.4z"/><path fill="#ecd3c5" d="M639.57 490.17h4.4v0.70h-4.4z"/><path d="M639.57 490.37h4.4v75.90h-4.4z"/><path fill="#b40426" d="M641.08 566.57h4.4v4.70h-4.4z"/><path fill="#ecd3c5" d="M641.08 491.52h4.4v0.70h-4.4z"/><path d="M641.08 491.72h4.4v75.35h-4.4z"/><path fill="#b40426" d="M642.59 567.37h4.4v4.70h-4.4z"/><path fill="#ecd3c5" d="M642.59 492.88h4.4v0.70h-4.4z"/><path d="M642.59 493.08h4.4v74.79h-4.4z"/><path fill="#b40426" d="M644.11 568.18h4.4v4.70h-4.4z"/><path fill="#ecd3c5" d="M644.11 494.24h4.4v0.70h-4.4z"/><path d="M644.11 494.44h4.4v74.23h-4.4z"/><path fill="#b40426" d="M645.62 568.98h4.4v4.70h-4.4z"/><path fill="#ecd3c5" d="M645.62 495.61h4.4v0.70h-4.4z"/><path d="M645.62 495.81h4.4v73.67h-4.4z"/><path fill="#b40426" d="M647.13 569.80h4.4v4.70h-4.4z"/><path fill="#ecd3c5" d="M647.13 496.99h4.4v0.70h-4.4z"/><path d="M647.13 497.19h4.4v73.11h-4.4z"/><path fill="#b40426" d="M648.64 570.61h4.4v4.70h-4.4z"/><path fill="#ecd3c5" d="M648.64 498.37h4.4v0.70h-4.4z"/><path d="M648.64 498.57h4.4v72.54h-4.4z"/><path fill="#b40426" d="M650.15 571.43h4.4v4.70h-4.4z"/><path fill="#ecd3c5" d="M650.15 499.76h4.4v0.70h-4.4z"/><path d="M650.15 499.96h4.4v71.97h-4.4z"/><path fill="#b40426" d="M651.66 572.26h4.4v4.70h-4.4z"/><path fill="#ecd3c5" d="M651.66 501.16h4.4v0.70h-4.4z"/><path d="M651.66 501.36h4.4v71.40h-4.4z"/><path fill="#b40426" d="M653.17 573.09h4.4v4.70h-4.4z"/><path fill="#ecd3c5" d="M653.17 502.57h4.4v0.70h-4.4z"/><path d="M653.17 502.77h4.4v70.82h-4.4z"/><path fill="#b40426" d="M654.68 573.92h4.4v4.70h-4.4z"/><path fill="#ecd3c5" d="M654.68 503.98h4.4v0.70h-4.4z"/><path d="M654.68 504.18h4.4v70.24h-4.4z"/><path fill="#b40426" d="M656.19 574.76h4.4v4.70h-4.4z"/><path fill="#ecd3c5" d="M656.19 505.40h4.4v0.70h-4.4z"/><path d="M656.19 505.60h4.4v69.66h-4.4z"/><path fill="#b40426" d="M657.71 575.60h4.4v4.70h-4.4z"/><path fill="#ecd3c5" d="M657.71 506.83h4.4v0.70h-4.4z"/><path d="M657.71 507.03h4.4v69.07h-4.4z"/><path fill="#b40426" d="M659.22 576.45h4.4v4.70h-4.4z"/><path fill="#ecd3c5" d="M659.22 508.27h4.4v0.70h-4.4z"/><path d="M659.22 508.47h4.4v68.48h-4.4z"/><path fill="#b40426" d="M660.73 577.30h4.4v4.70h-4.4z"/><path fill="#ecd3c5" d="M660.73 509.71h4.4v0.70h-4.4z"/><path d="M660.73 509.91h4.4v67.89h-4.4z"/><path fill="#b40426" d="M662.24 578.16h4.4v4.70h-4.4z"/><path fill="#ecd3c5" d="M662.24 511.17h4.4v0.70h-4.4z"/><path d="M662.24 511.37h4.4v67.29h-4.4z"/><path fill="#b40426" d="M663.75 579.03h4.4v4.70h-4.4z"/><path fill="#ecd3c5" d="M663.75 512.63h4.4v0.70h-4.4z"/><path d="M663.75 512.83h4.4v66.69h-4.4z"/><path fill="#b40426" d="M665.26 579.89h4.4v4.70h-4.4z"/><path fill="#ecd3c5" d="M665.26 514.10h4.4v0.70h-4.4z"/><path d="M665.26 514.30h4.4v66.09h-4.4z"/><path fill="#b40426" d="M666.77 580.77h4.4v4.70h-4.4z"/><path fill="#ecd3c5" d="M666.77 515.59h4.4v0.70h-4.4z"/><path d="M666.77 515.79h4.4v65.48h-4.4z"/><path fill="#b40426" d="M668.28 581.65h4.4v4.70h-4.4z"/><path fill="#ecd3c5" d="M668.28 517.08h4.4v0.70h-4.4z"/><path d="M668.28 517.28h4.4v64.87h-4.4z"/><path fill="#b40426" d="M669.79 582.54h4.4v4.70h-4.4z"/><path fill="#ecd3c5" d="M669.79 518.58h4.4v0.70h-4.4z"/><path d="M669.79 518.78h4.4v64.25h-4.4z"/><path fill="#b40426" d="M671.30 583.43h4.4v4.70h-4.4z"/><path fill="#ecd3c5" d="M671.30 520.09h4.4v0.70h-4.4z"/><path d="M671.30 520.29h4.4v63.63h-4.4z"/><path fill="#b40426" d="M672.82 584.33h4.4v4.70h-4.4z"/><path fill="#ecd3c5" d="M672.82 521.62h4.4v0.70h-4.4z"/><path d="M672.82 521.82h4.4v63.01h-4.4z"/><path fill="#b40426" d="M674.33 585.23h4.4v4.70h-4.4z"/><path fill="#ecd3c5" d="M674.33 523.15h4.4v0.70h-4.4z"/><path d="M674.33 523.35h4.4v62.38h-4.4z"/><path fill="#b40426" d="M675.84 586.15h4.4v4.70h-4.4z"/><path fill="#ecd3c5" d="M675.84 524.70h4.4v0.70h-4.4z"/><path d="M675.84 524.90h4.4v61.75h-4.4z"/><path fill="#b40426" d="M677.35 587.06h4.4v4.70h-4.4z"/><path fill="#ecd3c5" d="M677.35 526.26h4.4v0.70h-4.4z"/><path d="M677.35 526.46h4.4v61.11h-4.4z"/><path fill="#b40426" d="M678.86 587.99h4.4v4.70h-4.4z"/><path fill="#ecd3c5" d="M678.86 527.83h4.4v0.70h-4.4z"/><path d="M678.86 528.03h4.4v60.46h-4.4z"/><path fill="#b40426" d="M680.37 588.93h4.4v4.70h-4.4z"/><path fill="#ecd3c5" d="M680.37 529.41h4.4v0.70h-4.4z"/><path d="M680.37 529.61h4.4v59.81h-4.4z"/><path fill="#b40426" d="M681.88 589.87h4.4v4.70h-4.4z"/><path fill="#ecd3c5" d="M681.88 531.01h4.4v0.70h-4.4z"/><path d="M681.88 531.21h4.4v59.16h-4.4z"/><path fill="#b40426" d="M683.39 590.82h4.4v4.70h-4.4z"/><path fill="#ecd3c5" d="M683.39 532.62h4.4v0.70h-4.4z"/><path d="M683.39 532.82h4.4v58.50h-4.4z"/><path fill="#b40426" d="M684.90 591.77h4.4v4.70h-4.4z"/><path fill="#ecd3c5" d="M684.90 534.24h4.4v0.70h-4.4z"/><path d="M684.90 534.44h4.4v57.83h-4.4z"/><path fill="#b40426" d="M686.41 592.74h4.4v4.70h-4.4z"/><path fill="#ecd3c5" d="M686.41 535.88h4.4v0.70h-4.4z"/><path d="M686.41 536.08h4.4v57.16h-4.4z"/><path fill="#b40426" d="M687.93 593.72h4.4v4.70h-4.4z"/><path fill="#ecd3c5" d="M687.93 537.53h4.4v0.70h-4.4z"/><path d="M687.93 537.73h4.4v56.49h-4.4z"/><path fill="#b40426" d="M689.44 594.70h4.4v4.70h-4.4z"/><path fill="#ecd3c5" d="M689.44 539.20h4.4v0.70h-4.4z"/><path d="M689.44 539.40h4.4v55.80h-4.4z"/><path fill="#b40426" d="M690.95 595.70h4.4v4.70h-4.4z"/><path fill="#ecd3c5" d="M690.95 540.89h4.4v0.70h-4.4z"/><path d="M690.95 541.09h4.4v55.11h-4.4z"/><path fill="#b40426" d="M692.46 596.70h4.4v4.70h-4.4z"/><path fill="#ecd3c5" d="M692.46 542.59h4.4v0.70h-4.4z"/><path d="M692.46 542.79h4.4v54.41h-4.4z"/><path fill="#b40426" d="M693.97 597.71h4.4v4.70h-4.4z"/><path fill="#ecd3c5" d="M693.97 544.31h4.4v0.70h-4.4z"/><path d="M693.97 544.51h4.4v53.71h-4.4z"/><path fill="#b40426" d="M695.48 598.74h4.4v4.70h-4.4z"/><path fill="#ecd3c5" d="M695.48 546.04h4.4v0.70h-4.4z"/><path d="M695.48 546.24h4.4v52.99h-4.4z"/><path fill="#b40426" d="M696.99 599.78h4.4v4.70h-4.4z"/><path fill="#ecd3c5" d="M696.99 547.80h4.4v0.70h-4.4z"/><path d="M696.99 548.00h4.4v52.27h-4.4z"/><path fill="#b40426" d="M698.50 600.82h4.4v4.70h-4.4z"/><path fill="#ecd3c5" d="M698.50 549.58h4.4v0.70h-4.4z"/><path d="M698.50 549.78h4.4v51.55h-4.4z"/><path fill="#b40426" d="M700.01 601.88h4.4v4.70h-4.4z"/><path fill="#ecd3c5" d="M700.01 551.38h4.4v0.70h-4.4z"/><path d="M700.01 551.58h4.4v50.81h-4.4z"/><path fill="#b40426" d="M701.53 602.96h4.4v4.70h-4.4z"/><path fill="#ecd3c5" d="M701.53 553.19h4.4v0.70h-4.4z"/><path d="M701.53 553.39h4.4v50.06h-4.4z"/><path fill="#b40426" d="M703.04 604.04h4.4v4.70h-4.4z"/><path fill="#ecd3c5" d="M703.04 555.04h4.4v0.70h-4.4z"/><path d="M703.04 555.24h4.4v49.31h-4.4z"/><path fill="#b40426" d="M704.55 605.15h4.4v4.70h-4.4z"/><path fill="#ecd3c5" d="M704.55 556.90h4.4v0.70h-4.4z"/><path d="M704.55 557.10h4.4v48.54h-4.4z"/><path fill="#b40426" d="M706.06 606.26h4.4v4.70h-4.4z"/><path fill="#ecd3c5" d="M706.06 558.79h4.4v0.70h-4.4z"/><path d="M706.06 558.99h4.4v47.77h-4.4z"/><path fill="#b40426" d="M707.57 607.39h4.4v4.70h-4.4z"/><path fill="#ecd3c5" d="M707.57 560.71h4.4v0.70h-4.4z"/><path d="M707.57 560.91h4.4v46.98h-4.4z"/><path fill="#b40426" d="M709.08 608.54h4.4v4.70h-4.4z"/><path fill="#ecd3c5" d="M709.08 562.65h4.4v0.70h-4.4z"/><path d="M709.08 562.85h4.4v46.19h-4.4z"/><path fill="#b40426" d="M710.59 609.70h4.4v4.70h-4.4z"/><path fill="#ecd3c5" d="M710.59 564.63h4.4v0.70h-4.4z"/><path d="M710.59 564.83h4.4v45.38h-4.4z"/><path fill="#b40426" d="M712.10 610.88h4.4v4.70h-4.4z"/><path fill="#ecd3c5" d="M712.10 566.63h4.4v0.70h-4.4z"/><path d="M712.10 566.83h4.4v44.56h-4.4z"/><path fill="#b40426" d="M713.61 612.09h4.4v4.70h-4.4z"/><path fill="#ecd3c5" d="M713.61 568.66h4.4v0.70h-4.4z"/><path d="M713.61 568.86h4.4v43.72h-4.4z"/><path fill="#b40426" d="M715.12 613.31h4.4v4.70h-4.4z"/><path fill="#ecd3c5" d="M715.12 570.73h4.4v0.70h-4.4z"/><path d="M715.12 570.93h4.4v42.87h-4.4z"/><path fill="#b40426" d="M716.64 614.55h4.4v4.70h-4.4z"/><path fill="#ecd3c5" d="M716.64 572.84h4.4v0.70h-4.4z"/><path d="M716.64 573.04h4.4v42.01h-4.4z"/><path fill="#b40426" d="M718.15 615.81h4.4v4.70h-4.4z"/><path fill="#ecd3c5" d="M718.15 574.99h4.4v0.70h-4.4z"/><path d="M718.15 575.19h4.4v41.13h-4.4z"/><path fill="#b40426" d="M719.66 617.10h4.4v4.70h-4.4z"/><path fill="#ecd3c5" d="M719.66 577.17h4.4v0.70h-4.4z"/><path d="M719.66 577.37h4.4v40.23h-4.4z"/><path fill="#b40426" d="M721.17 618.42h4.4v4.70h-4.4z"/><path fill="#ecd3c5" d="M721.17 579.40h4.4v0.70h-4.4z"/><path d="M721.17 579.60h4.4v39.32h-4.4z"/><path fill="#b40426" d="M722.68 619.76h4.4v4.70h-4.4z"/><path fill="#ecd3c5" d="M722.68 581.68h4.4v0.70h-4.4z"/><path d="M722.68 581.88h4.4v38.38h-4.4z"/><path fill="#b40426" d="M724.19 621.14h4.4v4.70h-4.4z"/><path fill="#ecd3c5" d="M724.19 584.01h4.4v0.70h-4.4z"/><path d="M724.19 584.21h4.4v37.43h-4.4z"/><path fill="#b40426" d="M725.70 622.54h4.4v4.70h-4.4z"/><path fill="#ecd3c5" d="M725.70 586.39h4.4v0.70h-4.4z"/><path d="M725.70 586.59h4.4v36.45h-4.4z"/><path fill="#b40426" d="M727.21 623.98h4.4v4.70h-4.4z"/><path fill="#ecd3c5" d="M727.21 588.83h4.4v0.70h-4.4z"/><path d="M727.21 589.03h4.4v35.45h-4.4z"/><path fill="#b40426" d="M728.72 625.46h4.4v4.70h-4.4z"/><path fill="#ecd3c5" d="M728.72 591.34h4.4v0.70h-4.4z"/><path d="M728.72 591.54h4.4v34.42h-4.4z"/><path fill="#b40426" d="M730.23 626.98h4.4v4.70h-4.4z"/><path fill="#ecd3c5" d="M730.23 593.92h4.4v0.70h-4.4z"/><path d="M730.23 594.12h4.4v33.37h-4.4z"/><path fill="#b40426" d="M731.75 628.55h4.4v4.70h-4.4z"/><path fill="#ecd3c5" d="M731.75 596.57h4.4v0.70h-4.4z"/><path d="M731.75 596.77h4.4v32.28h-4.4z"/><path fill="#b40426" d="M733.26 630.17h4.4v4.70h-4.4z"/><path fill="#ecd3c5" d="M733.26 599.31h4.4v0.70h-4.4z"/><path d="M733.26 599.51h4.4v31.16h-4.4z"/><path fill="#b40426" d="M734.77 631.84h4.4v4.70h-4.4z"/><path fill="#ecd3c5" d="M734.77 602.15h4.4v0.70h-4.4z"/><path d="M734.77 602.35h4.4v29.99h-4.4z"/><path fill="#b40426" d="M736.28 633.57h4.4v4.70h-4.4z"/><path fill="#ecd3c5" d="M736.28 605.09h4.4v0.70h-4.4z"/><path d="M736.28 605.29h4.4v28.79h-4.4z"/><path fill="#b40426" d="M737.79 635.38h4.4v4.70h-4.4z"/><path fill="#ecd3c5" d="M737.79 608.15h4.4v0.70h-4.4z"/><path d="M737.79 608.35h4.4v27.53h-4.4z"/><path fill="#b40426" d="M739.30 637.27h4.4v4.70h-4.4z"/><path fill="#ecd3c5" d="M739.30 611.35h4.4v0.70h-4.4z"/><path d="M739.30 611.55h4.4v26.22h-4.4z"/><path fill="#b40426" d="M740.81 639.25h4.4v4.70h-4.4z"/><path fill="#ecd3c5" d="M740.81 614.71h4.4v0.70h-4.4z"/><path d="M740.81 614.91h4.4v24.84h-4.4z"/><path fill="#b40426" d="M742.32 641.35h4.4v4.70h-4.4z"/><path fill="#ecd3c5" d="M742.32 618.26h4.4v0.70h-4.4z"/><path d="M742.32 618.46h4.4v23.39h-4.4z"/><path fill="#b40426" d="M743.83 643.57h4.4v4.70h-4.4z"/><path fill="#ecd3c5" d="M743.83 622.04h4.4v0.70h-4.4z"/><path d="M743.83 622.24h4.4v21.84h-4.4z"/><path fill="#b40426" d="M745.34 645.97h4.4v4.70h-4.4z"/><path fill="#ecd3c5" d="M745.34 626.09h4.4v0.70h-4.4z"/><path d="M745.34 626.29h4.4v20.18h-4.4z"/><path fill="#b40426" d="M746.86 648.57h4.4v4.70h-4.4z"/><path fill="#ecd3c5" d="M746.86 630.50h4.4v0.70h-4.4z"/><path d="M746.86 630.70h4.4v18.37h-4.4z"/><path fill="#b40426" d="M748.37 651.45h4.4v4.70h-4.4z"/><path fill="#ecd3c5" d="M748.37 635.38h4.4v0.70h-4.4z"/><path d="M748.37 635.58h4.4v16.37h-4.4z"/><path fill="#b40426" d="M749.88 654.72h4.4v4.70h-4.4z"/><path fill="#ecd3c5" d="M749.88 640.93h4.4v0.70h-4.4z"/><path d="M749.88 641.13h4.4v14.09h-4.4z"/><path fill="#b40426" d="M751.39 658.63h4.4v4.70h-4.4z"/><path fill="#ecd3c5" d="M751.39 647.55h4.4v0.70h-4.4z"/><path d="M751.39 647.75h4.4v11.38h-4.4z"/><path fill="#b40426" d="M752.90 663.80h4.4v4.70h-4.4z"/><path fill="#ecd3c5" d="M752.90 656.33h4.4v0.70h-4.4z"/><path d="M752.90 656.53h4.4v7.78h-4.4z"/></g>
<rect x="122.20" y="77.60" width="663.30" height="617.40" fill="none" stroke="#000" stroke-width="1.90"/>
<g stroke="#000" stroke-width="1.70"><line x1="152.10" y1="695.00" x2="152.10" y2="703.65"/><line x1="273.30" y1="695.00" x2="273.30" y2="703.65"/><line x1="394.50" y1="695.00" x2="394.50" y2="703.65"/><line x1="515.70" y1="695.00" x2="515.70" y2="703.65"/><line x1="636.90" y1="695.00" x2="636.90" y2="703.65"/><line x1="758.10" y1="695.00" x2="758.10" y2="703.65"/><line x1="122.20" y1="677.50" x2="113.55" y2="677.50"/><line x1="122.20" y1="534.55" x2="113.55" y2="534.55"/><line x1="122.20" y1="391.60" x2="113.55" y2="391.60"/><line x1="122.20" y1="248.65" x2="113.55" y2="248.65"/><line x1="122.20" y1="105.70" x2="113.55" y2="105.70"/></g>
<g font-size="36.4"><text x="151.80" y="735" text-anchor="middle">0.0</text><text x="273.00" y="735" text-anchor="middle">0.2</text><text x="394.20" y="735" text-anchor="middle">0.4</text><text x="515.40" y="735" text-anchor="middle">0.6</text><text x="636.60" y="735" text-anchor="middle">0.8</text><text x="757.80" y="735" text-anchor="middle">1.0</text><text x="105.3" y="689.90" text-anchor="end">0</text><text x="105.3" y="546.95" text-anchor="end">100</text><text x="105.3" y="404.00" text-anchor="end">200</text><text x="105.3" y="261.05" text-anchor="end">300</text><text x="105.3" y="118.10" text-anchor="end">400</text></g>
<text class="i" x="453.85" y="777.4" font-size="34.3" text-anchor="middle">β</text>
<text transform="translate(36.7 386.30) rotate(-90)" font-size="34.3" text-anchor="middle"><tspan class="i" font-size="36.5">L</tspan> (nm)</text>
<text x="1.2" y="63.2" font-size="55.8">(a)</text>
<rect x="826.90" y="77.70" width="31.20" height="617.30" fill="url(#cb)" stroke="#000" stroke-width="1.90"/>
<g stroke="#000" stroke-width="1.70"><line x1="858.10" y1="77.70" x2="866.35" y2="77.70"/><line x1="858.10" y1="154.86" x2="866.35" y2="154.86"/><line x1="858.10" y1="232.02" x2="866.35" y2="232.02"/><line x1="858.10" y1="309.19" x2="866.35" y2="309.19"/><line x1="858.10" y1="386.35" x2="866.35" y2="386.35"/><line x1="858.10" y1="463.51" x2="866.35" y2="463.51"/><line x1="858.10" y1="540.67" x2="866.35" y2="540.67"/><line x1="858.10" y1="617.84" x2="866.35" y2="617.84"/><line x1="858.10" y1="695.00" x2="866.35" y2="695.00"/></g>
<g font-size="35.8"><text x="870.75" y="89.70">1.00</text><text x="872.54" y="166.86">0.75</text><text x="872.54" y="244.02">0.50</text><text x="872.54" y="321.19">0.25</text><text x="872.54" y="398.35">0.00</text><text transform="translate(871.76 478.00) scale(1.254 1)">−</text><text x="897.44" y="475.51">0.25</text><text transform="translate(871.76 555.16) scale(1.254 1)">−</text><text x="897.44" y="552.67">0.50</text><text transform="translate(871.76 632.32) scale(1.254 1)">−</text><text x="897.44" y="629.84">0.75</text><text transform="translate(871.76 709.49) scale(1.254 1)">−</text><text x="895.65" y="707.00">1.00</text></g>
<text x="759.98" y="78.86" font-size="42.0">×</text><text x="785.58" y="73.40" font-size="35.5">10</text><text x="820.65" y="61.40" font-size="25.0">−<tspan dx="3.4">9</tspan></text>
<text x="841.4" y="31" font-size="41.3" text-anchor="middle">TCD</text>
<g fill="none" stroke-width="3.40" stroke-linejoin="round" stroke-linecap="square">
<path stroke="#de0014" d="M1643.9 343.0 L1644.7 331.9 L1645.5 320.8 L1646.3 309.9 L1647.2 299.1 L1647.9 289.9 L1648.0 288.5 L1648.8 277.9 L1649.6 267.4 L1650.4 257.1 L1651.2 247.2 L1651.6 242.5 L1652.0 237.6 L1652.8 228.1 L1653.6 218.8 L1654.4 210.2 L1655.2 202.6 L1655.3 201.8 L1656.0 196.0 L1656.8 189.9 L1657.6 184.3 L1658.5 179.0 L1659.3 173.9 L1660.1 169.0 L1660.9 164.2 L1661.7 159.3 L1661.8 158.6 L1662.5 154.4 L1663.3 149.5 L1664.1 144.7 L1664.9 140.0 L1665.7 135.4 L1666.5 131.0 L1667.3 126.8 L1668.1 123.0 L1668.1 122.7 L1669.0 118.6 L1669.8 114.5 L1670.6 111.1 L1671.2 109.2 L1671.4 108.9 L1672.2 107.4 L1673.0 106.2 L1673.8 105.8 L1673.8 105.8 L1674.6 106.6 L1675.4 108.6 L1676.2 111.5 L1677.0 115.0 L1677.1 115.4 L1677.8 120.0 L1678.6 128.0 L1679.5 137.8 L1679.7 140.8 L1680.3 149.9 L1681.1 166.0 L1681.6 178.9 L1681.9 184.4 L1682.7 205.2 L1683.4 229.7 L1683.5 233.1 L1684.3 280.6 L1684.4 285.2 L1685.1 312.9 L1685.9 339.7 L1686.4 356.2 L1686.7 371.9 L1687.5 411.2 L1688.3 450.9 L1688.9 475.4 L1689.1 483.6 L1689.9 508.9 L1690.3 520.8 L1690.8 542.1 L1691.6 580.8 L1691.7 584.4 L1692.4 608.5 L1693.2 630.2 L1693.4 635.2 L1694.0 644.4 L1694.8 654.6 L1695.2 658.0 L1695.6 660.8 L1696.4 665.1 L1697.0 666.2 L1697.2 666.0 L1698.0 662.8 L1698.8 657.5 L1699.1 655.5 L1699.6 651.1 L1700.4 641.7 L1701.3 630.7 L1702.1 619.9 L1702.3 617.4 L1702.9 610.3 L1703.7 600.9 L1704.5 591.5 L1705.3 582.2 L1706.1 572.9 L1706.2 571.7 L1706.9 563.4 L1707.7 553.8 L1708.5 544.2 L1709.3 535.0 L1709.9 528.5 L1710.1 526.3 L1710.9 518.0 L1711.7 509.9 L1712.6 502.1 L1713.4 494.7 L1713.9 490.5 L1714.2 487.9 L1715.0 481.6 L1715.8 475.7 L1715.8 475.4 L1716.6 469.7 L1717.4 463.7 L1718.2 457.9 L1719.0 452.8 L1719.0 452.5 L1719.8 447.2 L1720.6 441.9 L1721.4 436.8 L1722.2 431.9 L1723.1 427.4 L1723.9 423.3 L1724.1 422.3 L1724.7 419.6 L1725.5 415.9 L1726.3 412.5 L1727.1 409.8 L1727.8 408.3 L1727.9 408.1 L1728.7 406.9 L1729.5 405.8 L1730.3 404.9 L1731.1 404.3 L1731.9 403.8 L1732.5 403.8 L1732.7 403.8 L1733.6 404.0 L1734.4 404.5 L1735.2 405.3 L1736.0 406.1 L1736.8 407.0 L1736.8 407.0 L1737.6 408.1 L1738.4 409.5 L1739.2 411.2 L1740.0 413.0 L1740.8 414.8 L1741.6 416.6 L1742.0 417.2 L1742.4 418.1 L1743.2 419.8 L1744.0 421.4 L1744.9 423.0 L1745.7 424.5 L1746.5 426.0 L1747.3 427.3 L1748.1 428.5 L1748.2 428.7 L1748.9 429.5 L1749.7 430.5 L1750.5 431.4 L1751.3 432.2 L1752.1 433.0 L1752.9 433.7 L1753.7 434.4 L1754.5 435.0 L1754.5 435.0 L1755.4 435.6 L1756.2 436.2 L1757.0 436.7 L1757.8 437.2 L1758.6 437.7 L1759.4 438.1 L1760.2 438.6 L1761.0 439.0 L1761.8 439.5 L1762.6 439.9 L1763.4 440.3 L1764.2 440.8 L1765.0 441.2 L1765.8 441.7 L1766.7 442.2 L1767.3 442.6 L1767.5 442.8 L1768.3 443.3 L1769.1 443.9 L1769.9 444.5 L1770.7 445.1 L1771.5 445.7 L1772.3 446.3 L1773.1 447.0 L1773.9 447.6 L1774.7 448.3 L1775.5 448.9 L1776.3 449.6 L1777.2 450.2 L1778.0 450.9 L1778.8 451.6 L1779.6 452.2 L1780.4 452.9 L1781.2 453.5 L1781.4 453.7 L1782.0 454.2 L1782.8 454.8 L1783.6 455.5 L1784.4 456.1 L1785.2 456.8 L1786.0 457.4 L1786.8 458.1 L1787.7 458.7 L1788.5 459.4 L1789.3 460.0 L1790.1 460.7 L1790.9 461.3 L1791.7 462.0 L1792.5 462.6 L1793.3 463.3 L1794.1 464.0 L1794.9 464.7 L1795.7 465.3 L1796.5 466.0 L1797.3 466.7 L1797.5 466.9 L1798.1 467.5 L1799.0 468.2 L1799.8 468.9 L1800.6 469.7 L1801.4 470.5 L1802.2 471.2 L1803.0 472.0 L1803.8 472.8 L1804.6 473.6 L1805.4 474.3 L1806.2 475.1 L1807.0 475.8 L1807.8 476.5 L1808.2 476.8 L1808.6 477.2 L1809.5 477.9 L1810.3 478.6 L1811.1 479.4 L1811.9 480.1 L1812.7 480.8 L1813.5 481.4 L1814.3 482.1 L1815.1 482.7 L1815.9 483.3 L1816.7 483.9 L1817.5 484.4 L1818.0 484.6 L1818.3 484.8 L1819.1 485.2 L1819.9 485.7 L1820.8 486.0 L1821.6 486.4 L1822.4 486.8 L1823.2 487.1 L1824.0 487.4 L1824.8 487.7 L1825.6 488.0 L1826.4 488.3 L1827.2 488.6 L1828.0 488.9 L1828.0 488.9 L1828.8 489.1 L1829.6 489.4 L1830.4 489.6 L1831.3 489.8 L1832.1 490.1 L1832.9 490.3 L1833.7 490.5 L1834.5 490.7 L1835.3 490.9 L1836.1 491.1 L1836.9 491.3 L1837.7 491.5 L1838.5 491.7 L1839.3 491.9 L1840.1 492.1 L1840.9 492.2 L1841.8 492.4 L1842.6 492.6 L1843.4 492.8 L1844.2 492.9 L1845.0 493.1 L1845.8 493.2 L1846.1 493.3 L1846.6 493.4 L1847.4 493.5 L1848.2 493.7 L1849.0 493.8 L1849.8 494.0 L1850.6 494.1 L1851.4 494.3 L1852.2 494.4 L1853.1 494.5 L1853.9 494.7 L1854.7 494.8 L1855.5 494.9 L1856.3 495.1 L1857.1 495.2 L1857.9 495.3 L1858.7 495.5 L1859.5 495.6 L1860.3 495.7 L1861.1 495.8 L1861.9 495.9 L1862.7 496.1 L1863.6 496.2 L1864.4 496.3 L1865.2 496.4 L1866.0 496.5 L1866.8 496.6 L1867.6 496.8 L1868.4 496.9 L1869.2 497.0 L1870.0 497.1 L1870.8 497.2 L1871.6 497.3 L1872.4 497.4 L1873.2 497.5 L1874.0 497.6 L1874.9 497.7 L1875.7 497.8 L1876.5 497.9 L1877.3 498.0 L1878.1 498.1 L1878.9 498.2 L1879.1 498.3 L1879.7 498.4 L1880.5 498.5 L1881.3 498.6 L1882.1 498.7 L1882.9 498.8 L1883.7 498.9 L1884.5 499.0 L1885.4 499.1 L1886.2 499.1 L1887.0 499.2 L1887.8 499.3 L1888.6 499.4 L1889.4 499.5 L1890.2 499.6 L1891.0 499.7 L1891.8 499.8 L1892.6 499.9 L1893.4 500.0 L1894.2 500.1 L1895.0 500.2 L1895.9 500.3 L1896.7 500.3 L1897.5 500.4 L1898.3 500.5 L1899.1 500.6 L1899.9 500.7 L1900.7 500.8 L1901.5 500.9 L1902.3 501.0 L1903.1 501.0 L1903.9 501.1 L1904.7 501.2 L1905.5 501.3 L1906.3 501.4 L1907.2 501.5 L1908.0 501.5 L1908.8 501.6 L1909.6 501.7 L1910.4 501.8 L1911.2 501.9 L1912.0 501.9 L1912.1 501.9 L1912.8 502.0 L1913.6 502.1 L1914.4 502.2 L1915.2 502.2 L1916.0 502.3 L1916.8 502.4 L1917.7 502.5 L1918.5 502.6 L1919.3 502.6 L1920.1 502.7 L1920.9 502.8 L1921.7 502.9 L1922.5 502.9 L1923.3 503.0 L1924.1 503.1 L1924.9 503.1 L1925.7 503.2 L1926.5 503.3 L1927.3 503.4 L1928.1 503.4 L1929.0 503.5 L1929.8 503.6 L1930.6 503.6 L1931.4 503.7 L1932.2 503.8 L1933.0 503.8 L1933.8 503.9 L1934.6 504.0 L1935.4 504.0 L1936.2 504.1 L1937.0 504.2 L1937.8 504.2 L1938.6 504.3 L1939.5 504.4 L1940.3 504.5 L1941.1 504.5 L1941.9 504.6 L1942.7 504.6 L1943.5 504.7 L1944.3 504.8 L1945.1 504.8 L1945.3 504.9 L1945.9 504.9 L1946.7 505.0 L1947.5 505.0 L1948.3 505.1 L1949.1 505.2 L1950.0 505.2 L1950.8 505.3 L1951.6 505.4 L1952.4 505.4 L1953.2 505.5 L1954.0 505.6 L1954.8 505.6 L1955.6 505.7 L1956.4 505.7 L1957.2 505.8 L1958.0 505.9 L1958.8 505.9 L1959.6 506.0 L1960.4 506.0 L1961.3 506.1 L1962.1 506.2 L1962.9 506.2 L1963.7 506.3 L1964.5 506.3 L1965.3 506.4 L1966.1 506.5"/>
<path stroke="#c4002f" d="M1558.8 343.0 L1559.5 331.9 L1560.2 320.8 L1560.8 309.9 L1561.5 299.1 L1562.1 289.9 L1562.1 288.5 L1562.8 277.9 L1563.5 267.4 L1564.1 257.1 L1564.8 247.2 L1565.1 242.5 L1565.4 237.6 L1566.1 228.1 L1566.8 218.8 L1567.4 210.2 L1568.1 202.6 L1568.1 201.8 L1568.7 196.0 L1569.4 189.9 L1570.1 184.3 L1570.7 179.0 L1571.4 173.9 L1572.0 169.0 L1572.7 164.2 L1573.4 159.3 L1573.4 158.6 L1574.0 154.4 L1574.7 149.5 L1575.3 144.7 L1576.0 140.0 L1576.6 135.4 L1577.3 131.0 L1578.0 126.8 L1578.6 123.0 L1578.6 122.7 L1579.3 118.6 L1579.9 114.5 L1580.6 111.1 L1581.1 109.2 L1581.3 108.9 L1581.9 107.4 L1582.6 106.2 L1583.2 105.8 L1583.2 105.8 L1583.9 106.6 L1584.6 108.6 L1585.2 111.5 L1585.9 115.0 L1586.0 115.4 L1586.5 120.0 L1587.2 128.0 L1587.9 137.8 L1588.0 140.8 L1588.5 149.9 L1589.2 166.0 L1589.6 178.9 L1589.8 184.4 L1590.5 205.2 L1591.1 229.7 L1591.2 233.1 L1591.8 280.6 L1591.9 285.2 L1592.5 312.9 L1593.1 339.7 L1593.5 356.2 L1593.8 371.9 L1594.4 411.2 L1595.1 450.9 L1595.6 475.4 L1595.8 483.6 L1596.4 508.9 L1596.7 520.8 L1597.1 542.1 L1597.7 580.8 L1597.8 584.4 L1598.4 608.5 L1599.1 630.2 L1599.3 635.2 L1599.7 644.4 L1600.4 654.6 L1600.7 658.0 L1601.0 660.8 L1601.7 665.1 L1602.2 666.2 L1602.4 666.0 L1603.0 662.8 L1603.7 657.5 L1603.9 655.5 L1604.3 651.1 L1605.0 641.7 L1605.7 630.7 L1606.3 619.9 L1606.5 617.4 L1607.0 610.3 L1607.6 600.9 L1608.3 591.5 L1609.0 582.2 L1609.6 572.9 L1609.7 571.7 L1610.3 563.4 L1610.9 553.8 L1611.6 544.2 L1612.2 535.0 L1612.7 528.5 L1612.9 526.3 L1613.6 518.0 L1614.2 509.9 L1614.9 502.1 L1615.5 494.7 L1615.9 490.5 L1616.2 487.9 L1616.9 481.6 L1617.5 475.7 L1617.6 475.4 L1618.2 469.7 L1618.8 463.7 L1619.5 457.9 L1620.1 452.8 L1620.2 452.5 L1620.8 447.2 L1621.5 441.9 L1622.1 436.8 L1622.8 431.9 L1623.5 427.4 L1624.1 423.3 L1624.3 422.3 L1624.8 419.6 L1625.4 415.9 L1626.1 412.5 L1626.8 409.8 L1627.3 408.3 L1627.4 408.1 L1628.1 406.9 L1628.7 405.8 L1629.4 404.9 L1630.0 404.3 L1630.7 403.8 L1631.2 403.8 L1631.4 403.8 L1632.0 404.0 L1632.7 404.5 L1633.3 405.3 L1634.0 406.1 L1634.7 407.0 L1634.7 407.0 L1635.3 408.1 L1636.0 409.5 L1636.6 411.2 L1637.3 413.0 L1638.0 414.8 L1638.6 416.6 L1638.9 417.2 L1639.3 418.1 L1639.9 419.8 L1640.6 421.4 L1641.3 423.0 L1641.9 424.5 L1642.6 426.0 L1643.2 427.3 L1643.9 428.5 L1644.0 428.7 L1644.6 429.5 L1645.2 430.5 L1645.9 431.4 L1646.5 432.2 L1647.2 433.0 L1647.9 433.7 L1648.5 434.4 L1649.2 435.0 L1649.2 435.0 L1649.8 435.6 L1650.5 436.2 L1651.1 436.7 L1651.8 437.2 L1652.5 437.7 L1653.1 438.1 L1653.8 438.6 L1654.4 439.0 L1655.1 439.5 L1655.8 439.9 L1656.4 440.3 L1657.1 440.8 L1657.7 441.2 L1658.4 441.7 L1659.1 442.2 L1659.6 442.6 L1659.7 442.8 L1660.4 443.3 L1661.0 443.9 L1661.7 444.5 L1662.4 445.1 L1663.0 445.7 L1663.7 446.3 L1664.3 447.0 L1665.0 447.6 L1665.7 448.3 L1666.3 448.9 L1667.0 449.6 L1667.6 450.2 L1668.3 450.9 L1668.9 451.6 L1669.6 452.2 L1670.3 452.9 L1670.9 453.5 L1671.1 453.7 L1671.6 454.2 L1672.2 454.8 L1672.9 455.5 L1673.6 456.1 L1674.2 456.8 L1674.9 457.4 L1675.5 458.1 L1676.2 458.7 L1676.9 459.4 L1677.5 460.0 L1678.2 460.7 L1678.8 461.3 L1679.5 462.0 L1680.2 462.6 L1680.8 463.3 L1681.5 464.0 L1682.1 464.7 L1682.8 465.3 L1683.5 466.0 L1684.1 466.7 L1684.3 466.9 L1684.8 467.5 L1685.4 468.2 L1686.1 468.9 L1686.7 469.7 L1687.4 470.5 L1688.1 471.2 L1688.7 472.0 L1689.4 472.8 L1690.0 473.6 L1690.7 474.3 L1691.4 475.1 L1692.0 475.8 L1692.7 476.5 L1692.9 476.8 L1693.3 477.2 L1694.0 477.9 L1694.7 478.6 L1695.3 479.4 L1696.0 480.1 L1696.6 480.8 L1697.3 481.4 L1698.0 482.1 L1698.6 482.7 L1699.3 483.3 L1699.9 483.9 L1700.6 484.4 L1701.0 484.6 L1701.3 484.8 L1701.9 485.2 L1702.6 485.7 L1703.2 486.0 L1703.9 486.4 L1704.5 486.8 L1705.2 487.1 L1705.9 487.4 L1706.5 487.7 L1707.2 488.0 L1707.8 488.3 L1708.5 488.6 L1709.1 488.9 L1709.2 488.9 L1709.8 489.1 L1710.5 489.4 L1711.1 489.6 L1711.8 489.8 L1712.5 490.1 L1713.1 490.3 L1713.8 490.5 L1714.4 490.7 L1715.1 490.9 L1715.8 491.1 L1716.4 491.3 L1717.1 491.5 L1717.7 491.7 L1718.4 491.9 L1719.1 492.1 L1719.7 492.2 L1720.4 492.4 L1721.0 492.6 L1721.7 492.8 L1722.4 492.9 L1723.0 493.1 L1723.7 493.2 L1723.9 493.3 L1724.3 493.4 L1725.0 493.5 L1725.6 493.7 L1726.3 493.8 L1727.0 494.0 L1727.6 494.1 L1728.3 494.3 L1728.9 494.4 L1729.6 494.5 L1730.3 494.7 L1730.9 494.8 L1731.6 494.9 L1732.2 495.1 L1732.9 495.2 L1733.6 495.3 L1734.2 495.5 L1734.9 495.6 L1735.5 495.7 L1736.2 495.8 L1736.9 495.9 L1737.5 496.1 L1738.2 496.2 L1738.8 496.3 L1739.5 496.4 L1740.2 496.5 L1740.8 496.6 L1741.5 496.8 L1742.1 496.9 L1742.8 497.0 L1743.4 497.1 L1744.1 497.2 L1744.8 497.3 L1745.4 497.4 L1746.1 497.5 L1746.7 497.6 L1747.4 497.7 L1748.1 497.8 L1748.7 497.9 L1749.4 498.0 L1750.0 498.1 L1750.7 498.2 L1750.8 498.3 L1751.4 498.4 L1752.0 498.5 L1752.7 498.6 L1753.3 498.7 L1754.0 498.8 L1754.7 498.9 L1755.3 499.0 L1756.0 499.1 L1756.6 499.1 L1757.3 499.2 L1758.0 499.3 L1758.6 499.4 L1759.3 499.5 L1759.9 499.6 L1760.6 499.7 L1761.2 499.8 L1761.9 499.9 L1762.6 500.0 L1763.2 500.1 L1763.9 500.2 L1764.5 500.3 L1765.2 500.3 L1765.9 500.4 L1766.5 500.5 L1767.2 500.6 L1767.8 500.7 L1768.5 500.8 L1769.2 500.9 L1769.8 501.0 L1770.5 501.0 L1771.1 501.1 L1771.8 501.2 L1772.5 501.3 L1773.1 501.4 L1773.8 501.5 L1774.4 501.5 L1775.1 501.6 L1775.8 501.7 L1776.4 501.8 L1777.1 501.9 L1777.7 501.9 L1777.8 501.9 L1778.4 502.0 L1779.0 502.1 L1779.7 502.2 L1780.4 502.2 L1781.0 502.3 L1781.7 502.4 L1782.3 502.5 L1783.0 502.6 L1783.7 502.6 L1784.3 502.7 L1785.0 502.8 L1785.6 502.9 L1786.3 502.9 L1787.0 503.0 L1787.6 503.1 L1788.3 503.1 L1788.9 503.2 L1789.6 503.3 L1790.3 503.4 L1790.9 503.4 L1791.6 503.5 L1792.2 503.6 L1792.9 503.6 L1793.6 503.7 L1794.2 503.8 L1794.9 503.8 L1795.5 503.9 L1796.2 504.0 L1796.8 504.0 L1797.5 504.1 L1798.2 504.2 L1798.8 504.2 L1799.5 504.3 L1800.1 504.4 L1800.8 504.5 L1801.5 504.5 L1802.1 504.6 L1802.8 504.6 L1803.4 504.7 L1804.1 504.8 L1804.8 504.8 L1804.9 504.9 L1805.4 504.9 L1806.1 505.0 L1806.7 505.0 L1807.4 505.1 L1808.1 505.2 L1808.7 505.2 L1809.4 505.3 L1810.0 505.4 L1810.7 505.4 L1811.4 505.5 L1812.0 505.6 L1812.7 505.6 L1813.3 505.7 L1814.0 505.7 L1814.7 505.8 L1815.3 505.9 L1816.0 505.9 L1816.6 506.0 L1817.3 506.0 L1817.9 506.1 L1818.6 506.2 L1819.3 506.2 L1819.9 506.3 L1820.6 506.3 L1821.2 506.4 L1821.9 506.5"/>
<path stroke="#960064" d="M1483.8 343.0 L1484.3 331.9 L1484.9 320.8 L1485.4 309.9 L1485.9 299.1 L1486.4 289.9 L1486.5 288.5 L1487.0 277.9 L1487.5 267.4 L1488.0 257.1 L1488.6 247.2 L1488.8 242.5 L1489.1 237.6 L1489.6 228.1 L1490.2 218.8 L1490.7 210.2 L1491.2 202.6 L1491.3 201.8 L1491.7 196.0 L1492.3 189.9 L1492.8 184.3 L1493.3 179.0 L1493.9 173.9 L1494.4 169.0 L1494.9 164.2 L1495.4 159.3 L1495.5 158.6 L1496.0 154.4 L1496.5 149.5 L1497.0 144.7 L1497.6 140.0 L1498.1 135.4 L1498.6 131.0 L1499.1 126.8 L1499.6 123.0 L1499.7 122.7 L1500.2 118.6 L1500.7 114.5 L1501.3 111.1 L1501.7 109.2 L1501.8 108.9 L1502.3 107.4 L1502.8 106.2 L1503.4 105.8 L1503.4 105.8 L1503.9 106.6 L1504.4 108.6 L1505.0 111.5 L1505.5 115.0 L1505.5 115.4 L1506.0 120.0 L1506.5 128.0 L1507.1 137.8 L1507.2 140.8 L1507.6 149.9 L1508.1 166.0 L1508.5 178.9 L1508.7 184.4 L1509.2 205.2 L1509.7 229.7 L1509.7 233.1 L1510.2 280.6 L1510.3 285.2 L1510.8 312.9 L1511.3 339.7 L1511.6 356.2 L1511.8 371.9 L1512.4 411.2 L1512.9 450.9 L1513.3 475.4 L1513.4 483.6 L1513.9 508.9 L1514.2 520.8 L1514.5 542.1 L1515.0 580.8 L1515.1 584.4 L1515.5 608.5 L1516.1 630.2 L1516.2 635.2 L1516.6 644.4 L1517.1 654.6 L1517.4 658.0 L1517.6 660.8 L1518.2 665.1 L1518.5 666.2 L1518.7 666.0 L1519.2 662.8 L1519.8 657.5 L1520.0 655.5 L1520.3 651.1 L1520.8 641.7 L1521.3 630.7 L1521.9 619.9 L1522.0 617.4 L1522.4 610.3 L1522.9 600.9 L1523.5 591.5 L1524.0 582.2 L1524.5 572.9 L1524.6 571.7 L1525.0 563.4 L1525.6 553.8 L1526.1 544.2 L1526.6 535.0 L1527.0 528.5 L1527.2 526.3 L1527.7 518.0 L1528.2 509.9 L1528.7 502.1 L1529.3 494.7 L1529.6 490.5 L1529.8 487.9 L1530.3 481.6 L1530.9 475.7 L1530.9 475.4 L1531.4 469.7 L1531.9 463.7 L1532.4 457.9 L1532.9 452.8 L1533.0 452.5 L1533.5 447.2 L1534.0 441.9 L1534.6 436.8 L1535.1 431.9 L1535.6 427.4 L1536.1 423.3 L1536.3 422.3 L1536.7 419.6 L1537.2 415.9 L1537.7 412.5 L1538.3 409.8 L1538.7 408.3 L1538.8 408.1 L1539.3 406.9 L1539.8 405.8 L1540.4 404.9 L1540.9 404.3 L1541.4 403.8 L1541.8 403.8 L1542.0 403.8 L1542.5 404.0 L1543.0 404.5 L1543.5 405.3 L1544.1 406.1 L1544.6 407.0 L1544.6 407.0 L1545.1 408.1 L1545.7 409.5 L1546.2 411.2 L1546.7 413.0 L1547.2 414.8 L1547.8 416.6 L1548.0 417.2 L1548.3 418.1 L1548.8 419.8 L1549.4 421.4 L1549.9 423.0 L1550.4 424.5 L1550.9 426.0 L1551.5 427.3 L1552.0 428.5 L1552.1 428.7 L1552.5 429.5 L1553.1 430.5 L1553.6 431.4 L1554.1 432.2 L1554.6 433.0 L1555.2 433.7 L1555.7 434.4 L1556.2 435.0 L1556.2 435.0 L1556.8 435.6 L1557.3 436.2 L1557.8 436.7 L1558.3 437.2 L1558.9 437.7 L1559.4 438.1 L1559.9 438.6 L1560.5 439.0 L1561.0 439.5 L1561.5 439.9 L1562.0 440.3 L1562.6 440.8 L1563.1 441.2 L1563.6 441.7 L1564.2 442.2 L1564.6 442.6 L1564.7 442.8 L1565.2 443.3 L1565.7 443.9 L1566.3 444.5 L1566.8 445.1 L1567.3 445.7 L1567.9 446.3 L1568.4 447.0 L1568.9 447.6 L1569.4 448.3 L1570.0 448.9 L1570.5 449.6 L1571.0 450.2 L1571.6 450.9 L1572.1 451.6 L1572.6 452.2 L1573.1 452.9 L1573.7 453.5 L1573.8 453.7 L1574.2 454.2 L1574.7 454.8 L1575.3 455.5 L1575.8 456.1 L1576.3 456.8 L1576.8 457.4 L1577.4 458.1 L1577.9 458.7 L1578.4 459.4 L1579.0 460.0 L1579.5 460.7 L1580.0 461.3 L1580.5 462.0 L1581.1 462.6 L1581.6 463.3 L1582.1 464.0 L1582.7 464.7 L1583.2 465.3 L1583.7 466.0 L1584.2 466.7 L1584.4 466.9 L1584.8 467.5 L1585.3 468.2 L1585.8 468.9 L1586.4 469.7 L1586.9 470.5 L1587.4 471.2 L1587.9 472.0 L1588.5 472.8 L1589.0 473.6 L1589.5 474.3 L1590.1 475.1 L1590.6 475.8 L1591.1 476.5 L1591.3 476.8 L1591.6 477.2 L1592.2 477.9 L1592.7 478.6 L1593.2 479.4 L1593.8 480.1 L1594.3 480.8 L1594.8 481.4 L1595.3 482.1 L1595.9 482.7 L1596.4 483.3 L1596.9 483.9 L1597.5 484.4 L1597.8 484.6 L1598.0 484.8 L1598.5 485.2 L1599.0 485.7 L1599.6 486.0 L1600.1 486.4 L1600.6 486.8 L1601.2 487.1 L1601.7 487.4 L1602.2 487.7 L1602.7 488.0 L1603.3 488.3 L1603.8 488.6 L1604.3 488.9 L1604.3 488.9 L1604.9 489.1 L1605.4 489.4 L1605.9 489.6 L1606.4 489.8 L1607.0 490.1 L1607.5 490.3 L1608.0 490.5 L1608.6 490.7 L1609.1 490.9 L1609.6 491.1 L1610.1 491.3 L1610.7 491.5 L1611.2 491.7 L1611.7 491.9 L1612.3 492.1 L1612.8 492.2 L1613.3 492.4 L1613.8 492.6 L1614.4 492.8 L1614.9 492.9 L1615.4 493.1 L1616.0 493.2 L1616.1 493.3 L1616.5 493.4 L1617.0 493.5 L1617.5 493.7 L1618.1 493.8 L1618.6 494.0 L1619.1 494.1 L1619.7 494.3 L1620.2 494.4 L1620.7 494.5 L1621.3 494.7 L1621.8 494.8 L1622.3 494.9 L1622.8 495.1 L1623.4 495.2 L1623.9 495.3 L1624.4 495.5 L1625.0 495.6 L1625.5 495.7 L1626.0 495.8 L1626.5 495.9 L1627.1 496.1 L1627.6 496.2 L1628.1 496.3 L1628.7 496.4 L1629.2 496.5 L1629.7 496.6 L1630.2 496.8 L1630.8 496.9 L1631.3 497.0 L1631.8 497.1 L1632.4 497.2 L1632.9 497.3 L1633.4 497.4 L1633.9 497.5 L1634.5 497.6 L1635.0 497.7 L1635.5 497.8 L1636.1 497.9 L1636.6 498.0 L1637.1 498.1 L1637.6 498.2 L1637.8 498.3 L1638.2 498.4 L1638.7 498.5 L1639.2 498.6 L1639.8 498.7 L1640.3 498.8 L1640.8 498.9 L1641.3 499.0 L1641.9 499.1 L1642.4 499.1 L1642.9 499.2 L1643.5 499.3 L1644.0 499.4 L1644.5 499.5 L1645.0 499.6 L1645.6 499.7 L1646.1 499.8 L1646.6 499.9 L1647.2 500.0 L1647.7 500.1 L1648.2 500.2 L1648.7 500.3 L1649.3 500.3 L1649.8 500.4 L1650.3 500.5 L1650.9 500.6 L1651.4 500.7 L1651.9 500.8 L1652.4 500.9 L1653.0 501.0 L1653.5 501.0 L1654.0 501.1 L1654.6 501.2 L1655.1 501.3 L1655.6 501.4 L1656.1 501.5 L1656.7 501.5 L1657.2 501.6 L1657.7 501.7 L1658.3 501.8 L1658.8 501.9 L1659.3 501.9 L1659.4 501.9 L1659.8 502.0 L1660.4 502.1 L1660.9 502.2 L1661.4 502.2 L1662.0 502.3 L1662.5 502.4 L1663.0 502.5 L1663.5 502.6 L1664.1 502.6 L1664.6 502.7 L1665.1 502.8 L1665.7 502.9 L1666.2 502.9 L1666.7 503.0 L1667.2 503.1 L1667.8 503.1 L1668.3 503.2 L1668.8 503.3 L1669.4 503.4 L1669.9 503.4 L1670.4 503.5 L1670.9 503.6 L1671.5 503.6 L1672.0 503.7 L1672.5 503.8 L1673.1 503.8 L1673.6 503.9 L1674.1 504.0 L1674.6 504.0 L1675.2 504.1 L1675.7 504.2 L1676.2 504.2 L1676.8 504.3 L1677.3 504.4 L1677.8 504.5 L1678.3 504.5 L1678.9 504.6 L1679.4 504.6 L1679.9 504.7 L1680.5 504.8 L1681.0 504.8 L1681.1 504.9 L1681.5 504.9 L1682.0 505.0 L1682.6 505.0 L1683.1 505.1 L1683.6 505.2 L1684.2 505.2 L1684.7 505.3 L1685.2 505.4 L1685.7 505.4 L1686.3 505.5 L1686.8 505.6 L1687.3 505.6 L1687.9 505.7 L1688.4 505.7 L1688.9 505.8 L1689.4 505.9 L1690.0 505.9 L1690.5 506.0 L1691.0 506.0 L1691.6 506.1 L1692.1 506.2 L1692.6 506.2 L1693.1 506.3 L1693.7 506.3 L1694.2 506.4 L1694.7 506.5"/>
<path stroke="#5a0096" d="M1412.1 343.0 L1412.5 331.9 L1412.9 320.8 L1413.3 309.9 L1413.7 299.1 L1414.1 289.9 L1414.1 288.5 L1414.5 277.9 L1414.9 267.4 L1415.3 257.1 L1415.7 247.2 L1415.9 242.5 L1416.1 237.6 L1416.6 228.1 L1417.0 218.8 L1417.4 210.2 L1417.8 202.6 L1417.8 201.8 L1418.2 196.0 L1418.6 189.9 L1419.0 184.3 L1419.4 179.0 L1419.8 173.9 L1420.2 169.0 L1420.6 164.2 L1421.0 159.3 L1421.0 158.6 L1421.4 154.4 L1421.8 149.5 L1422.2 144.7 L1422.6 140.0 L1423.0 135.4 L1423.4 131.0 L1423.8 126.8 L1424.2 123.0 L1424.2 122.7 L1424.6 118.6 L1425.0 114.5 L1425.4 111.1 L1425.8 109.2 L1425.8 108.9 L1426.2 107.4 L1426.6 106.2 L1427.0 105.8 L1427.0 105.8 L1427.5 106.6 L1427.9 108.6 L1428.3 111.5 L1428.7 115.0 L1428.7 115.4 L1429.1 120.0 L1429.5 128.0 L1429.9 137.8 L1430.0 140.8 L1430.3 149.9 L1430.7 166.0 L1431.0 178.9 L1431.1 184.4 L1431.5 205.2 L1431.9 229.7 L1431.9 233.1 L1432.3 280.6 L1432.3 285.2 L1432.7 312.9 L1433.1 339.7 L1433.3 356.2 L1433.5 371.9 L1433.9 411.2 L1434.3 450.9 L1434.6 475.4 L1434.7 483.6 L1435.1 508.9 L1435.3 520.8 L1435.5 542.1 L1435.9 580.8 L1436.0 584.4 L1436.3 608.5 L1436.7 630.2 L1436.9 635.2 L1437.1 644.4 L1437.5 654.6 L1437.7 658.0 L1437.9 660.8 L1438.4 665.1 L1438.6 666.2 L1438.8 666.0 L1439.2 662.8 L1439.6 657.5 L1439.7 655.5 L1440.0 651.1 L1440.4 641.7 L1440.8 630.7 L1441.2 619.9 L1441.3 617.4 L1441.6 610.3 L1442.0 600.9 L1442.4 591.5 L1442.8 582.2 L1443.2 572.9 L1443.2 571.7 L1443.6 563.4 L1444.0 553.8 L1444.4 544.2 L1444.8 535.0 L1445.1 528.5 L1445.2 526.3 L1445.6 518.0 L1446.0 509.9 L1446.4 502.1 L1446.8 494.7 L1447.1 490.5 L1447.2 487.9 L1447.6 481.6 L1448.0 475.7 L1448.1 475.4 L1448.4 469.7 L1448.9 463.7 L1449.3 457.9 L1449.6 452.8 L1449.7 452.5 L1450.1 447.2 L1450.5 441.9 L1450.9 436.8 L1451.3 431.9 L1451.7 427.4 L1452.1 423.3 L1452.2 422.3 L1452.5 419.6 L1452.9 415.9 L1453.3 412.5 L1453.7 409.8 L1454.1 408.3 L1454.1 408.1 L1454.5 406.9 L1454.9 405.8 L1455.3 404.9 L1455.7 404.3 L1456.1 403.8 L1456.4 403.8 L1456.5 403.8 L1456.9 404.0 L1457.3 404.5 L1457.7 405.3 L1458.1 406.1 L1458.5 407.0 L1458.6 407.0 L1458.9 408.1 L1459.3 409.5 L1459.8 411.2 L1460.2 413.0 L1460.6 414.8 L1461.0 416.6 L1461.1 417.2 L1461.4 418.1 L1461.8 419.8 L1462.2 421.4 L1462.6 423.0 L1463.0 424.5 L1463.4 426.0 L1463.8 427.3 L1464.2 428.5 L1464.3 428.7 L1464.6 429.5 L1465.0 430.5 L1465.4 431.4 L1465.8 432.2 L1466.2 433.0 L1466.6 433.7 L1467.0 434.4 L1467.4 435.0 L1467.4 435.0 L1467.8 435.6 L1468.2 436.2 L1468.6 436.7 L1469.0 437.2 L1469.4 437.7 L1469.8 438.1 L1470.2 438.6 L1470.7 439.0 L1471.1 439.5 L1471.5 439.9 L1471.9 440.3 L1472.3 440.8 L1472.7 441.2 L1473.1 441.7 L1473.5 442.2 L1473.8 442.6 L1473.9 442.8 L1474.3 443.3 L1474.7 443.9 L1475.1 444.5 L1475.5 445.1 L1475.9 445.7 L1476.3 446.3 L1476.7 447.0 L1477.1 447.6 L1477.5 448.3 L1477.9 448.9 L1478.3 449.6 L1478.7 450.2 L1479.1 450.9 L1479.5 451.6 L1479.9 452.2 L1480.3 452.9 L1480.7 453.5 L1480.9 453.7 L1481.1 454.2 L1481.6 454.8 L1482.0 455.5 L1482.4 456.1 L1482.8 456.8 L1483.2 457.4 L1483.6 458.1 L1484.0 458.7 L1484.4 459.4 L1484.8 460.0 L1485.2 460.7 L1485.6 461.3 L1486.0 462.0 L1486.4 462.6 L1486.8 463.3 L1487.2 464.0 L1487.6 464.7 L1488.0 465.3 L1488.4 466.0 L1488.8 466.7 L1488.9 466.9 L1489.2 467.5 L1489.6 468.2 L1490.0 468.9 L1490.4 469.7 L1490.8 470.5 L1491.2 471.2 L1491.6 472.0 L1492.0 472.8 L1492.5 473.6 L1492.9 474.3 L1493.3 475.1 L1493.7 475.8 L1494.1 476.5 L1494.2 476.8 L1494.5 477.2 L1494.9 477.9 L1495.3 478.6 L1495.7 479.4 L1496.1 480.1 L1496.5 480.8 L1496.9 481.4 L1497.3 482.1 L1497.7 482.7 L1498.1 483.3 L1498.5 483.9 L1498.9 484.4 L1499.1 484.6 L1499.3 484.8 L1499.7 485.2 L1500.1 485.7 L1500.5 486.0 L1500.9 486.4 L1501.3 486.8 L1501.7 487.1 L1502.1 487.4 L1502.5 487.7 L1503.0 488.0 L1503.4 488.3 L1503.8 488.6 L1504.1 488.9 L1504.2 488.9 L1504.6 489.1 L1505.0 489.4 L1505.4 489.6 L1505.8 489.8 L1506.2 490.1 L1506.6 490.3 L1507.0 490.5 L1507.4 490.7 L1507.8 490.9 L1508.2 491.1 L1508.6 491.3 L1509.0 491.5 L1509.4 491.7 L1509.8 491.9 L1510.2 492.1 L1510.6 492.2 L1511.0 492.4 L1511.4 492.6 L1511.8 492.8 L1512.2 492.9 L1512.6 493.1 L1513.0 493.2 L1513.2 493.3 L1513.4 493.4 L1513.9 493.5 L1514.3 493.7 L1514.7 493.8 L1515.1 494.0 L1515.5 494.1 L1515.9 494.3 L1516.3 494.4 L1516.7 494.5 L1517.1 494.7 L1517.5 494.8 L1517.9 494.9 L1518.3 495.1 L1518.7 495.2 L1519.1 495.3 L1519.5 495.5 L1519.9 495.6 L1520.3 495.7 L1520.7 495.8 L1521.1 495.9 L1521.5 496.1 L1521.9 496.2 L1522.3 496.3 L1522.7 496.4 L1523.1 496.5 L1523.5 496.6 L1523.9 496.8 L1524.3 496.9 L1524.8 497.0 L1525.2 497.1 L1525.6 497.2 L1526.0 497.3 L1526.4 497.4 L1526.8 497.5 L1527.2 497.6 L1527.6 497.7 L1528.0 497.8 L1528.4 497.9 L1528.8 498.0 L1529.2 498.1 L1529.6 498.2 L1529.7 498.3 L1530.0 498.4 L1530.4 498.5 L1530.8 498.6 L1531.2 498.7 L1531.6 498.8 L1532.0 498.9 L1532.4 499.0 L1532.8 499.1 L1533.2 499.1 L1533.6 499.2 L1534.0 499.3 L1534.4 499.4 L1534.8 499.5 L1535.2 499.6 L1535.7 499.7 L1536.1 499.8 L1536.5 499.9 L1536.9 500.0 L1537.3 500.1 L1537.7 500.2 L1538.1 500.3 L1538.5 500.3 L1538.9 500.4 L1539.3 500.5 L1539.7 500.6 L1540.1 500.7 L1540.5 500.8 L1540.9 500.9 L1541.3 501.0 L1541.7 501.0 L1542.1 501.1 L1542.5 501.2 L1542.9 501.3 L1543.3 501.4 L1543.7 501.5 L1544.1 501.5 L1544.5 501.6 L1544.9 501.7 L1545.3 501.8 L1545.7 501.9 L1546.1 501.9 L1546.2 501.9 L1546.6 502.0 L1547.0 502.1 L1547.4 502.2 L1547.8 502.2 L1548.2 502.3 L1548.6 502.4 L1549.0 502.5 L1549.4 502.6 L1549.8 502.6 L1550.2 502.7 L1550.6 502.8 L1551.0 502.9 L1551.4 502.9 L1551.8 503.0 L1552.2 503.1 L1552.6 503.1 L1553.0 503.2 L1553.4 503.3 L1553.8 503.4 L1554.2 503.4 L1554.6 503.5 L1555.0 503.6 L1555.4 503.6 L1555.8 503.7 L1556.2 503.8 L1556.6 503.8 L1557.1 503.9 L1557.5 504.0 L1557.9 504.0 L1558.3 504.1 L1558.7 504.2 L1559.1 504.2 L1559.5 504.3 L1559.9 504.4 L1560.3 504.5 L1560.7 504.5 L1561.1 504.6 L1561.5 504.6 L1561.9 504.7 L1562.3 504.8 L1562.7 504.8 L1562.8 504.9 L1563.1 504.9 L1563.5 505.0 L1563.9 505.0 L1564.3 505.1 L1564.7 505.2 L1565.1 505.2 L1565.5 505.3 L1565.9 505.4 L1566.3 505.4 L1566.7 505.5 L1567.1 505.6 L1567.5 505.6 L1568.0 505.7 L1568.4 505.7 L1568.8 505.8 L1569.2 505.9 L1569.6 505.9 L1570.0 506.0 L1570.4 506.0 L1570.8 506.1 L1571.2 506.2 L1571.6 506.2 L1572.0 506.3 L1572.4 506.3 L1572.8 506.4 L1573.2 506.5"/>
<path stroke="#2d00cd" d="M1334.8 343.0 L1335.1 331.9 L1335.4 320.8 L1335.6 309.9 L1335.9 299.1 L1336.2 289.9 L1336.2 288.5 L1336.5 277.9 L1336.7 267.4 L1337.0 257.1 L1337.3 247.2 L1337.4 242.5 L1337.5 237.6 L1337.8 228.1 L1338.1 218.8 L1338.3 210.2 L1338.6 202.6 L1338.6 201.8 L1338.9 196.0 L1339.1 189.9 L1339.4 184.3 L1339.7 179.0 L1340.0 173.9 L1340.2 169.0 L1340.5 164.2 L1340.8 159.3 L1340.8 158.6 L1341.0 154.4 L1341.3 149.5 L1341.6 144.7 L1341.8 140.0 L1342.1 135.4 L1342.4 131.0 L1342.6 126.8 L1342.9 123.0 L1342.9 122.7 L1343.2 118.6 L1343.5 114.5 L1343.7 111.1 L1343.9 109.2 L1344.0 108.9 L1344.3 107.4 L1344.5 106.2 L1344.8 105.8 L1344.8 105.8 L1345.1 106.6 L1345.3 108.6 L1345.6 111.5 L1345.9 115.0 L1345.9 115.4 L1346.1 120.0 L1346.4 128.0 L1346.7 137.8 L1346.8 140.8 L1347.0 149.9 L1347.2 166.0 L1347.4 178.9 L1347.5 184.4 L1347.8 205.2 L1348.0 229.7 L1348.0 233.1 L1348.3 280.6 L1348.3 285.2 L1348.6 312.9 L1348.8 339.7 L1349.0 356.2 L1349.1 371.9 L1349.4 411.2 L1349.6 450.9 L1349.8 475.4 L1349.9 483.6 L1350.2 508.9 L1350.3 520.8 L1350.5 542.1 L1350.7 580.8 L1350.8 584.4 L1351.0 608.5 L1351.3 630.2 L1351.3 635.2 L1351.5 644.4 L1351.8 654.6 L1351.9 658.0 L1352.1 660.8 L1352.3 665.1 L1352.5 666.2 L1352.6 666.0 L1352.9 662.8 L1353.1 657.5 L1353.2 655.5 L1353.4 651.1 L1353.7 641.7 L1354.0 630.7 L1354.2 619.9 L1354.3 617.4 L1354.5 610.3 L1354.8 600.9 L1355.0 591.5 L1355.3 582.2 L1355.6 572.9 L1355.6 571.7 L1355.8 563.4 L1356.1 553.8 L1356.4 544.2 L1356.6 535.0 L1356.8 528.5 L1356.9 526.3 L1357.2 518.0 L1357.4 509.9 L1357.7 502.1 L1358.0 494.7 L1358.2 490.5 L1358.3 487.9 L1358.5 481.6 L1358.8 475.7 L1358.8 475.4 L1359.1 469.7 L1359.3 463.7 L1359.6 457.9 L1359.9 452.8 L1359.9 452.5 L1360.1 447.2 L1360.4 441.9 L1360.7 436.8 L1360.9 431.9 L1361.2 427.4 L1361.5 423.3 L1361.6 422.3 L1361.8 419.6 L1362.0 415.9 L1362.3 412.5 L1362.6 409.8 L1362.8 408.3 L1362.8 408.1 L1363.1 406.9 L1363.4 405.8 L1363.6 404.9 L1363.9 404.3 L1364.2 403.8 L1364.4 403.8 L1364.4 403.8 L1364.7 404.0 L1365.0 404.5 L1365.3 405.3 L1365.5 406.1 L1365.8 407.0 L1365.8 407.0 L1366.1 408.1 L1366.3 409.5 L1366.6 411.2 L1366.9 413.0 L1367.1 414.8 L1367.4 416.6 L1367.5 417.2 L1367.7 418.1 L1367.9 419.8 L1368.2 421.4 L1368.5 423.0 L1368.8 424.5 L1369.0 426.0 L1369.3 427.3 L1369.6 428.5 L1369.6 428.7 L1369.8 429.5 L1370.1 430.5 L1370.4 431.4 L1370.6 432.2 L1370.9 433.0 L1371.2 433.7 L1371.4 434.4 L1371.7 435.0 L1371.7 435.0 L1372.0 435.6 L1372.3 436.2 L1372.5 436.7 L1372.8 437.2 L1373.1 437.7 L1373.3 438.1 L1373.6 438.6 L1373.9 439.0 L1374.1 439.5 L1374.4 439.9 L1374.7 440.3 L1374.9 440.8 L1375.2 441.2 L1375.5 441.7 L1375.8 442.2 L1376.0 442.6 L1376.0 442.8 L1376.3 443.3 L1376.6 443.9 L1376.8 444.5 L1377.1 445.1 L1377.4 445.7 L1377.6 446.3 L1377.9 447.0 L1378.2 447.6 L1378.4 448.3 L1378.7 448.9 L1379.0 449.6 L1379.3 450.2 L1379.5 450.9 L1379.8 451.6 L1380.1 452.2 L1380.3 452.9 L1380.6 453.5 L1380.7 453.7 L1380.9 454.2 L1381.1 454.8 L1381.4 455.5 L1381.7 456.1 L1381.9 456.8 L1382.2 457.4 L1382.5 458.1 L1382.8 458.7 L1383.0 459.4 L1383.3 460.0 L1383.6 460.7 L1383.8 461.3 L1384.1 462.0 L1384.4 462.6 L1384.6 463.3 L1384.9 464.0 L1385.2 464.7 L1385.4 465.3 L1385.7 466.0 L1386.0 466.7 L1386.0 466.9 L1386.2 467.5 L1386.5 468.2 L1386.8 468.9 L1387.1 469.7 L1387.3 470.5 L1387.6 471.2 L1387.9 472.0 L1388.1 472.8 L1388.4 473.6 L1388.7 474.3 L1388.9 475.1 L1389.2 475.8 L1389.5 476.5 L1389.6 476.8 L1389.7 477.2 L1390.0 477.9 L1390.3 478.6 L1390.6 479.4 L1390.8 480.1 L1391.1 480.8 L1391.4 481.4 L1391.6 482.1 L1391.9 482.7 L1392.2 483.3 L1392.4 483.9 L1392.7 484.4 L1392.9 484.6 L1393.0 484.8 L1393.2 485.2 L1393.5 485.7 L1393.8 486.0 L1394.1 486.4 L1394.3 486.8 L1394.6 487.1 L1394.9 487.4 L1395.1 487.7 L1395.4 488.0 L1395.7 488.3 L1395.9 488.6 L1396.2 488.9 L1396.2 488.9 L1396.5 489.1 L1396.7 489.4 L1397.0 489.6 L1397.3 489.8 L1397.6 490.1 L1397.8 490.3 L1398.1 490.5 L1398.4 490.7 L1398.6 490.9 L1398.9 491.1 L1399.2 491.3 L1399.4 491.5 L1399.7 491.7 L1400.0 491.9 L1400.2 492.1 L1400.5 492.2 L1400.8 492.4 L1401.1 492.6 L1401.3 492.8 L1401.6 492.9 L1401.9 493.1 L1402.1 493.2 L1402.2 493.3 L1402.4 493.4 L1402.7 493.5 L1402.9 493.7 L1403.2 493.8 L1403.5 494.0 L1403.7 494.1 L1404.0 494.3 L1404.3 494.4 L1404.6 494.5 L1404.8 494.7 L1405.1 494.8 L1405.4 494.9 L1405.6 495.1 L1405.9 495.2 L1406.2 495.3 L1406.4 495.5 L1406.7 495.6 L1407.0 495.7 L1407.2 495.8 L1407.5 495.9 L1407.8 496.1 L1408.1 496.2 L1408.3 496.3 L1408.6 496.4 L1408.9 496.5 L1409.1 496.6 L1409.4 496.8 L1409.7 496.9 L1409.9 497.0 L1410.2 497.1 L1410.5 497.2 L1410.7 497.3 L1411.0 497.4 L1411.3 497.5 L1411.5 497.6 L1411.8 497.7 L1412.1 497.8 L1412.4 497.9 L1412.6 498.0 L1412.9 498.1 L1413.2 498.2 L1413.2 498.3 L1413.4 498.4 L1413.7 498.5 L1414.0 498.6 L1414.2 498.7 L1414.5 498.8 L1414.8 498.9 L1415.0 499.0 L1415.3 499.1 L1415.6 499.1 L1415.9 499.2 L1416.1 499.3 L1416.4 499.4 L1416.7 499.5 L1416.9 499.6 L1417.2 499.7 L1417.5 499.8 L1417.7 499.9 L1418.0 500.0 L1418.3 500.1 L1418.5 500.2 L1418.8 500.3 L1419.1 500.3 L1419.4 500.4 L1419.6 500.5 L1419.9 500.6 L1420.2 500.7 L1420.4 500.8 L1420.7 500.9 L1421.0 501.0 L1421.2 501.0 L1421.5 501.1 L1421.8 501.2 L1422.0 501.3 L1422.3 501.4 L1422.6 501.5 L1422.9 501.5 L1423.1 501.6 L1423.4 501.7 L1423.7 501.8 L1423.9 501.9 L1424.2 501.9 L1424.2 501.9 L1424.5 502.0 L1424.7 502.1 L1425.0 502.2 L1425.3 502.2 L1425.5 502.3 L1425.8 502.4 L1426.1 502.5 L1426.4 502.6 L1426.6 502.6 L1426.9 502.7 L1427.2 502.8 L1427.4 502.9 L1427.7 502.9 L1428.0 503.0 L1428.2 503.1 L1428.5 503.1 L1428.8 503.2 L1429.0 503.3 L1429.3 503.4 L1429.6 503.4 L1429.9 503.5 L1430.1 503.6 L1430.4 503.6 L1430.7 503.7 L1430.9 503.8 L1431.2 503.8 L1431.5 503.9 L1431.7 504.0 L1432.0 504.0 L1432.3 504.1 L1432.5 504.2 L1432.8 504.2 L1433.1 504.3 L1433.4 504.4 L1433.6 504.5 L1433.9 504.5 L1434.2 504.6 L1434.4 504.6 L1434.7 504.7 L1435.0 504.8 L1435.2 504.8 L1435.3 504.9 L1435.5 504.9 L1435.8 505.0 L1436.0 505.0 L1436.3 505.1 L1436.6 505.2 L1436.9 505.2 L1437.1 505.3 L1437.4 505.4 L1437.7 505.4 L1437.9 505.5 L1438.2 505.6 L1438.5 505.6 L1438.7 505.7 L1439.0 505.7 L1439.3 505.8 L1439.5 505.9 L1439.8 505.9 L1440.1 506.0 L1440.3 506.0 L1440.6 506.1 L1440.9 506.2 L1441.2 506.2 L1441.4 506.3 L1441.7 506.3 L1442.0 506.4 L1442.2 506.5"/>
<path stroke="#0000ff" d="M1213.2 343.0 L1213.2 331.9 L1213.3 320.8 L1213.3 309.9 L1213.4 299.1 L1213.4 289.9 L1213.5 288.5 L1213.5 277.9 L1213.6 267.4 L1213.6 257.1 L1213.7 247.2 L1213.7 242.5 L1213.7 237.6 L1213.8 228.1 L1213.9 218.8 L1213.9 210.2 L1214.0 202.6 L1214.0 201.8 L1214.0 196.0 L1214.1 189.9 L1214.1 184.3 L1214.2 179.0 L1214.3 173.9 L1214.3 169.0 L1214.4 164.2 L1214.4 159.3 L1214.4 158.6 L1214.5 154.4 L1214.5 149.5 L1214.6 144.7 L1214.7 140.0 L1214.7 135.4 L1214.8 131.0 L1214.8 126.8 L1214.9 123.0 L1214.9 122.7 L1214.9 118.6 L1215.0 114.5 L1215.1 111.1 L1215.1 109.2 L1215.1 108.9 L1215.2 107.4 L1215.2 106.2 L1215.3 105.8 L1215.3 105.8 L1215.3 106.6 L1215.4 108.6 L1215.5 111.5 L1215.5 115.0 L1215.5 115.4 L1215.6 120.0 L1215.6 128.0 L1215.7 137.8 L1215.7 140.8 L1215.7 149.9 L1215.8 166.0 L1215.8 178.9 L1215.9 184.4 L1215.9 205.2 L1216.0 229.7 L1216.0 233.1 L1216.0 280.6 L1216.0 285.2 L1216.1 312.9 L1216.1 339.7 L1216.2 356.2 L1216.2 371.9 L1216.3 411.2 L1216.3 450.9 L1216.4 475.4 L1216.4 483.6 L1216.4 508.9 L1216.5 520.8 L1216.5 542.1 L1216.5 580.8 L1216.5 584.4 L1216.6 608.5 L1216.7 630.2 L1216.7 635.2 L1216.7 644.4 L1216.8 654.6 L1216.8 658.0 L1216.8 660.8 L1216.9 665.1 L1216.9 666.2 L1216.9 666.0 L1217.0 662.8 L1217.1 657.5 L1217.1 655.5 L1217.1 651.1 L1217.2 641.7 L1217.2 630.7 L1217.3 619.9 L1217.3 617.4 L1217.3 610.3 L1217.4 600.9 L1217.5 591.5 L1217.5 582.2 L1217.6 572.9 L1217.6 571.7 L1217.6 563.4 L1217.7 553.8 L1217.7 544.2 L1217.8 535.0 L1217.8 528.5 L1217.9 526.3 L1217.9 518.0 L1218.0 509.9 L1218.0 502.1 L1218.1 494.7 L1218.1 490.5 L1218.1 487.9 L1218.2 481.6 L1218.3 475.7 L1218.3 475.4 L1218.3 469.7 L1218.4 463.7 L1218.4 457.9 L1218.5 452.8 L1218.5 452.5 L1218.5 447.2 L1218.6 441.9 L1218.7 436.8 L1218.7 431.9 L1218.8 427.4 L1218.8 423.3 L1218.8 422.3 L1218.9 419.6 L1218.9 415.9 L1219.0 412.5 L1219.1 409.8 L1219.1 408.3 L1219.1 408.1 L1219.2 406.9 L1219.2 405.8 L1219.3 404.9 L1219.3 404.3 L1219.4 403.8 L1219.4 403.8 L1219.5 403.8 L1219.5 404.0 L1219.6 404.5 L1219.6 405.3 L1219.7 406.1 L1219.7 407.0 L1219.8 407.0 L1219.8 408.1 L1219.9 409.5 L1219.9 411.2 L1220.0 413.0 L1220.0 414.8 L1220.1 416.6 L1220.1 417.2 L1220.1 418.1 L1220.2 419.8 L1220.3 421.4 L1220.3 423.0 L1220.4 424.5 L1220.4 426.0 L1220.5 427.3 L1220.5 428.5 L1220.6 428.7 L1220.6 429.5 L1220.7 430.5 L1220.7 431.4 L1220.8 432.2 L1220.8 433.0 L1220.9 433.7 L1220.9 434.4 L1221.0 435.0 L1221.0 435.0 L1221.1 435.6 L1221.1 436.2 L1221.2 436.7 L1221.2 437.2 L1221.3 437.7 L1221.4 438.1 L1221.4 438.6 L1221.5 439.0 L1221.5 439.5 L1221.6 439.9 L1221.6 440.3 L1221.7 440.8 L1221.8 441.2 L1221.8 441.7 L1221.9 442.2 L1221.9 442.6 L1221.9 442.8 L1222.0 443.3 L1222.0 443.9 L1222.1 444.5 L1222.2 445.1 L1222.2 445.7 L1222.3 446.3 L1222.3 447.0 L1222.4 447.6 L1222.4 448.3 L1222.5 448.9 L1222.6 449.6 L1222.6 450.2 L1222.7 450.9 L1222.7 451.6 L1222.8 452.2 L1222.8 452.9 L1222.9 453.5 L1222.9 453.7 L1223.0 454.2 L1223.0 454.8 L1223.1 455.5 L1223.1 456.1 L1223.2 456.8 L1223.2 457.4 L1223.3 458.1 L1223.4 458.7 L1223.4 459.4 L1223.5 460.0 L1223.5 460.7 L1223.6 461.3 L1223.6 462.0 L1223.7 462.6 L1223.8 463.3 L1223.8 464.0 L1223.9 464.7 L1223.9 465.3 L1224.0 466.0 L1224.0 466.7 L1224.1 466.9 L1224.1 467.5 L1224.2 468.2 L1224.2 468.9 L1224.3 469.7 L1224.3 470.5 L1224.4 471.2 L1224.4 472.0 L1224.5 472.8 L1224.6 473.6 L1224.6 474.3 L1224.7 475.1 L1224.7 475.8 L1224.8 476.5 L1224.8 476.8 L1224.8 477.2 L1224.9 477.9 L1225.0 478.6 L1225.0 479.4 L1225.1 480.1 L1225.1 480.8 L1225.2 481.4 L1225.2 482.1 L1225.3 482.7 L1225.4 483.3 L1225.4 483.9 L1225.5 484.4 L1225.5 484.6 L1225.5 484.8 L1225.6 485.2 L1225.6 485.7 L1225.7 486.0 L1225.8 486.4 L1225.8 486.8 L1225.9 487.1 L1225.9 487.4 L1226.0 487.7 L1226.0 488.0 L1226.1 488.3 L1226.2 488.6 L1226.2 488.9 L1226.2 488.9 L1226.3 489.1 L1226.3 489.4 L1226.4 489.6 L1226.4 489.8 L1226.5 490.1 L1226.6 490.3 L1226.6 490.5 L1226.7 490.7 L1226.7 490.9 L1226.8 491.1 L1226.8 491.3 L1226.9 491.5 L1227.0 491.7 L1227.0 491.9 L1227.1 492.1 L1227.1 492.2 L1227.2 492.4 L1227.2 492.6 L1227.3 492.8 L1227.4 492.9 L1227.4 493.1 L1227.5 493.2 L1227.5 493.3 L1227.5 493.4 L1227.6 493.5 L1227.6 493.7 L1227.7 493.8 L1227.8 494.0 L1227.8 494.1 L1227.9 494.3 L1227.9 494.4 L1228.0 494.5 L1228.0 494.7 L1228.1 494.8 L1228.2 494.9 L1228.2 495.1 L1228.3 495.2 L1228.3 495.3 L1228.4 495.5 L1228.4 495.6 L1228.5 495.7 L1228.6 495.8 L1228.6 495.9 L1228.7 496.1 L1228.7 496.2 L1228.8 496.3 L1228.8 496.4 L1228.9 496.5 L1229.0 496.6 L1229.0 496.8 L1229.1 496.9 L1229.1 497.0 L1229.2 497.1 L1229.2 497.2 L1229.3 497.3 L1229.4 497.4 L1229.4 497.5 L1229.5 497.6 L1229.5 497.7 L1229.6 497.8 L1229.7 497.9 L1229.7 498.0 L1229.8 498.1 L1229.8 498.2 L1229.8 498.3 L1229.9 498.4 L1229.9 498.5 L1230.0 498.6 L1230.1 498.7 L1230.1 498.8 L1230.2 498.9 L1230.2 499.0 L1230.3 499.1 L1230.3 499.1 L1230.4 499.2 L1230.5 499.3 L1230.5 499.4 L1230.6 499.5 L1230.6 499.6 L1230.7 499.7 L1230.7 499.8 L1230.8 499.9 L1230.9 500.0 L1230.9 500.1 L1231.0 500.2 L1231.0 500.3 L1231.1 500.3 L1231.1 500.4 L1231.2 500.5 L1231.3 500.6 L1231.3 500.7 L1231.4 500.8 L1231.4 500.9 L1231.5 501.0 L1231.5 501.0 L1231.6 501.1 L1231.7 501.2 L1231.7 501.3 L1231.8 501.4 L1231.8 501.5 L1231.9 501.5 L1231.9 501.6 L1232.0 501.7 L1232.1 501.8 L1232.1 501.9 L1232.2 501.9 L1232.2 501.9 L1232.2 502.0 L1232.3 502.1 L1232.3 502.2 L1232.4 502.2 L1232.5 502.3 L1232.5 502.4 L1232.6 502.5 L1232.6 502.6 L1232.7 502.6 L1232.7 502.7 L1232.8 502.8 L1232.9 502.9 L1232.9 502.9 L1233.0 503.0 L1233.0 503.1 L1233.1 503.1 L1233.1 503.2 L1233.2 503.3 L1233.3 503.4 L1233.3 503.4 L1233.4 503.5 L1233.4 503.6 L1233.5 503.6 L1233.5 503.7 L1233.6 503.8 L1233.7 503.8 L1233.7 503.9 L1233.8 504.0 L1233.8 504.0 L1233.9 504.1 L1233.9 504.2 L1234.0 504.2 L1234.1 504.3 L1234.1 504.4 L1234.2 504.5 L1234.2 504.5 L1234.3 504.6 L1234.3 504.6 L1234.4 504.7 L1234.5 504.8 L1234.5 504.8 L1234.5 504.9 L1234.6 504.9 L1234.6 505.0 L1234.7 505.0 L1234.7 505.1 L1234.8 505.2 L1234.9 505.2 L1234.9 505.3 L1235.0 505.4 L1235.0 505.4 L1235.1 505.5 L1235.1 505.6 L1235.2 505.6 L1235.3 505.7 L1235.3 505.7 L1235.4 505.8 L1235.4 505.9 L1235.5 505.9 L1235.5 506.0 L1235.6 506.0 L1235.7 506.1 L1235.7 506.2 L1235.8 506.2 L1235.8 506.3 L1235.9 506.3 L1235.9 506.4 L1236.0 506.5"/>
</g>
<rect x="1175.50" y="77.30" width="828.90" height="617.70" fill="none" stroke="#000" stroke-width="1.90"/>
<g stroke="#000" stroke-width="1.70"><line x1="1180.30" y1="695.00" x2="1180.30" y2="703.65"/><line x1="1376.75" y1="695.00" x2="1376.75" y2="703.65"/><line x1="1573.20" y1="695.00" x2="1573.20" y2="703.65"/><line x1="1769.65" y1="695.00" x2="1769.65" y2="703.65"/><line x1="1966.10" y1="695.00" x2="1966.10" y2="703.65"/><line x1="1175.50" y1="612.84" x2="1166.85" y2="612.84"/><line x1="1175.50" y1="518.70" x2="1166.85" y2="518.70"/><line x1="1175.50" y1="424.56" x2="1166.85" y2="424.56"/><line x1="1175.50" y1="330.42" x2="1166.85" y2="330.42"/><line x1="1175.50" y1="236.28" x2="1166.85" y2="236.28"/><line x1="1175.50" y1="142.14" x2="1166.85" y2="142.14"/></g>
<g font-size="36.4"><text x="1180.60" y="735.6" text-anchor="middle">0</text><text x="1377.05" y="735.6" text-anchor="middle">100</text><text x="1573.50" y="735.6" text-anchor="middle">200</text><text x="1769.95" y="735.6" text-anchor="middle">300</text><text x="1966.40" y="735.6" text-anchor="middle">400</text><text transform="translate(1115.63 627.43) scale(1.29 1)" font-size="35.2">−</text><text x="1158.2" y="624.64" text-anchor="end" font-size="35.2">1</text><text x="1159.3" y="530.70" text-anchor="end" font-size="35.2">0</text><text x="1159.3" y="436.56" text-anchor="end" font-size="35.2">1</text><text x="1159.3" y="342.42" text-anchor="end" font-size="35.2">2</text><text x="1159.3" y="248.28" text-anchor="end" font-size="35.2">3</text><text x="1159.3" y="154.14" text-anchor="end" font-size="35.2">4</text></g>
<text x="1177.38" y="75.86" font-size="42.0">×</text><text x="1202.98" y="70.40" font-size="35.5">10</text><text x="1238.05" y="58.40" font-size="25.0">−<tspan dx="3.4">9</tspan></text>
<text x="1589.95" y="776.6" font-size="34.3" text-anchor="middle"><tspan class="i" font-size="36.5">L</tspan> (nm)</text>
<text transform="translate(1098.6 386.85) rotate(-90)" font-size="34.3" text-anchor="middle">TCD</text>
<text x="1028.6" y="63.4" font-size="55.8">(b)</text>
<rect x="1751.7" y="94.1" width="234.8" height="294.0" rx="5.5" ry="5.5" fill="#fff" fill-opacity="0.8" stroke="#cdcdcd" stroke-width="2.1"/>
<g stroke-width="3.6"><line x1="1763.2" y1="118.90" x2="1831.8" y2="118.90" stroke="#de0014"/><line x1="1763.2" y1="166.32" x2="1831.8" y2="166.32" stroke="#c4002f"/><line x1="1763.2" y1="213.74" x2="1831.8" y2="213.74" stroke="#960064"/><line x1="1763.2" y1="261.16" x2="1831.8" y2="261.16" stroke="#5a0096"/><line x1="1763.2" y1="308.58" x2="1831.8" y2="308.58" stroke="#2d00cd"/><line x1="1763.2" y1="356.00" x2="1831.8" y2="356.00" stroke="#0000ff"/></g>
<g font-size="34.5"><text class="i" x="1857.2" y="130.50">β</text><text transform="translate(1884.08 135.10) scale(1.22 1)" font-size="38">=</text><text x="1916" y="130.50">0</text><text class="i" x="1857.2" y="177.92">β</text><text transform="translate(1884.08 182.52) scale(1.22 1)" font-size="38">=</text><text x="1916" y="177.92">0.2</text><text class="i" x="1857.2" y="225.34">β</text><text transform="translate(1884.08 229.94) scale(1.22 1)" font-size="38">=</text><text x="1916" y="225.34">0.4</text><text class="i" x="1857.2" y="272.76">β</text><text transform="translate(1884.08 277.36) scale(1.22 1)" font-size="38">=</text><text x="1916" y="272.76">0.6</text><text class="i" x="1857.2" y="320.18">β</text><text transform="translate(1884.08 324.78) scale(1.22 1)" font-size="38">=</text><text x="1916" y="320.18">0.8</text><text class="i" x="1857.2" y="367.60">β</text><text transform="translate(1884.08 372.20) scale(1.22 1)" font-size="38">=</text><text x="1916" y="367.60">0.99</text></g>
</svg></body></html>
